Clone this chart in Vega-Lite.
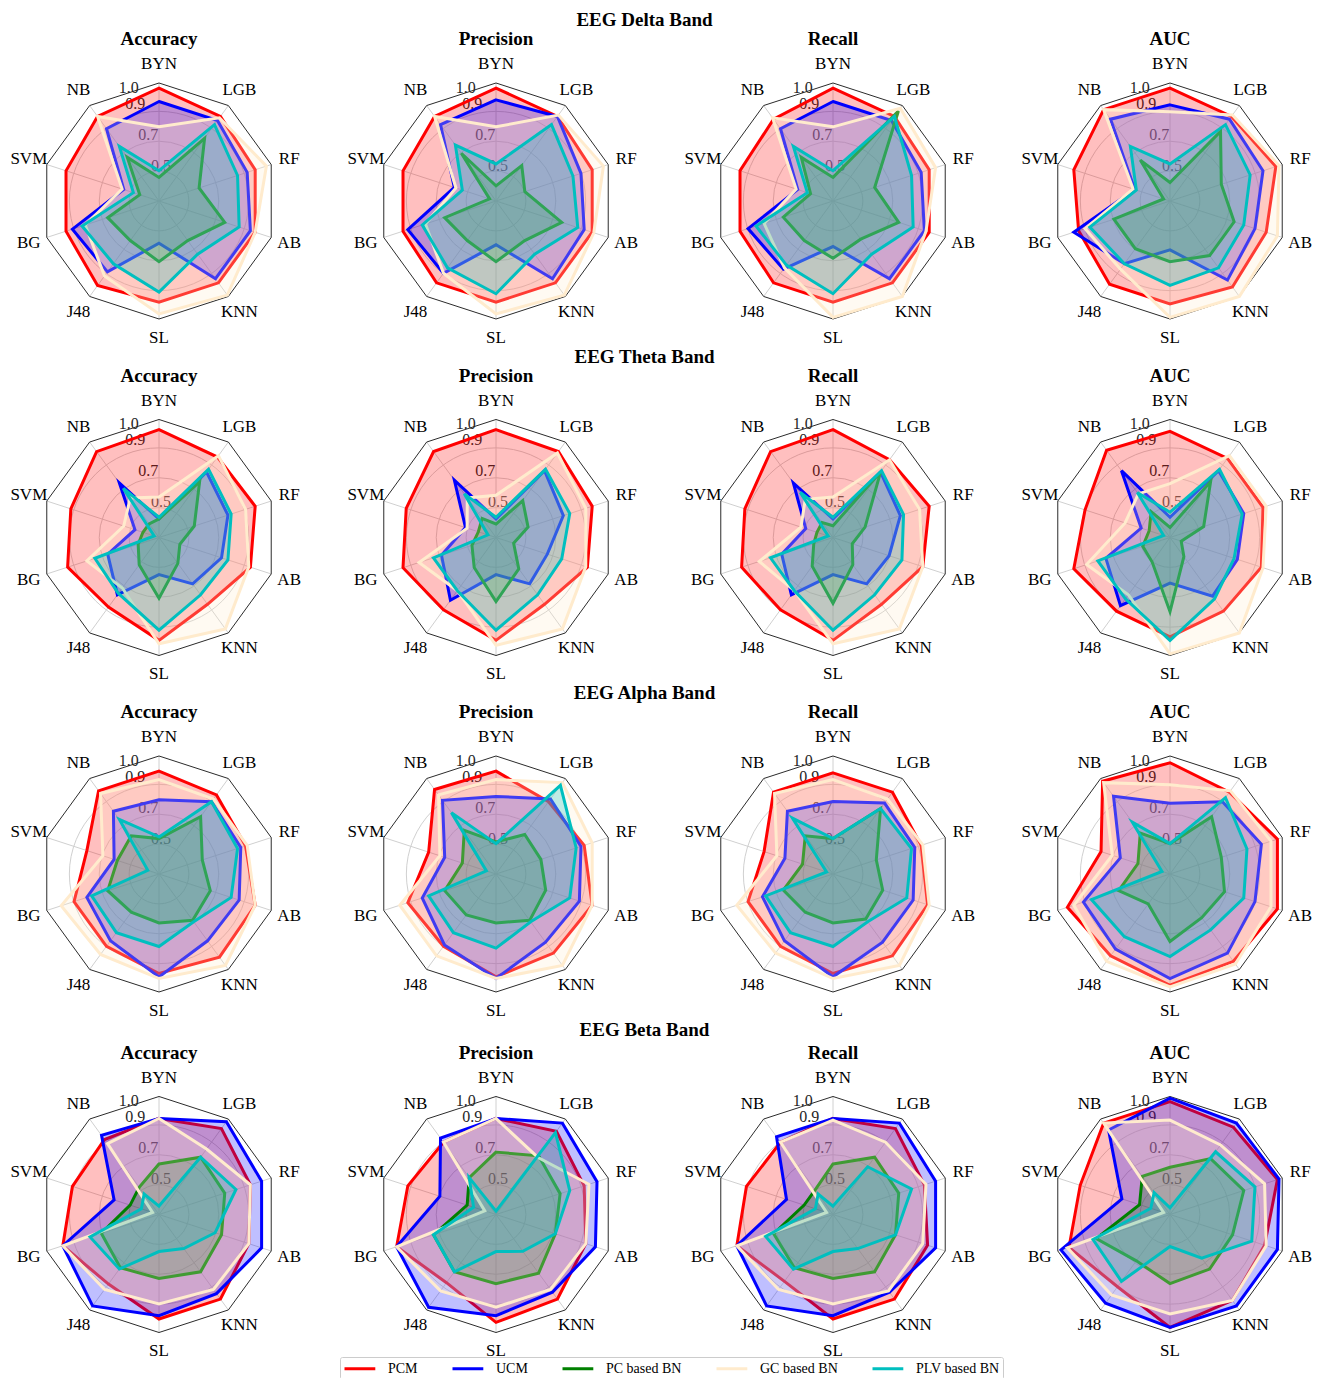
{
"$schema": "https://vega.github.io/schema/vega-lite/v6.json",
"padding": {"left": 9, "top": 11, "right": 0, "bottom": 30},
"background": "white",
"config": {
  "view": {"stroke": null},
  "font": "Liberation Serif",
  "title": {"font": "Liberation Serif", "fontSize": 19, "fontWeight": "bold", "color": "black", "offset": 6, "anchor": "middle"},
  "legend": {"symbolType": "M-1,0H3.4", "symbolStrokeWidth": 3, "symbolSize": 196, "labelFont": "Liberation Serif", "labelFontSize": 14, "labelColor": "black", "strokeColor": "#cccccc", "fillColor": "white", "padding": 3, "cornerRadius": 2, "columnPadding": 28, "labelOffset": 28}
},
"datasets": {
  "axes": [{"axis":"BYN","i":0},{"axis":"LGB","i":1},{"axis":"RF","i":2},{"axis":"AB","i":3},{"axis":"KNN","i":4},{"axis":"SL","i":5},{"axis":"J48","i":6},{"axis":"BG","i":7},{"axis":"SVM","i":8},{"axis":"NB","i":9}],
  "levels": [{"level":0.5,"label":"0.5"},{"level":0.7,"label":"0.7"},{"level":0.9,"label":"0.9"},{"level":1.0,"label":"1.0"}],
  "scores": [
{"band":"Delta","metric":"Accuracy","model":"PCM","BYN":0.97,"LGB":0.92,"RF":0.90,"AB":0.90,"KNN":0.90,"SL":0.90,"J48":0.92,"BG":0.88,"SVM":0.88,"NB":0.92},
{"band":"Delta","metric":"Accuracy","model":"UCM","BYN":0.89,"LGB":0.89,"RF":0.85,"AB":0.87,"KNN":0.87,"SL":0.55,"J48":0.82,"BG":0.84,"SVM":0.52,"NB":0.83},
{"band":"Delta","metric":"Accuracy","model":"PC based BN","BYN":0.44,"LGB":0.76,"RF":0.55,"AB":0.71,"KNN":0.59,"SL":0.66,"J48":0.59,"BG":0.62,"SVM":0.42,"NB":0.62},
{"band":"Delta","metric":"Accuracy","model":"GC based BN","BYN":0.74,"LGB":0.91,"RF":0.97,"AB":0.90,"KNN":0.99,"SL":0.97,"J48":0.85,"BG":0.76,"SVM":0.53,"NB":0.92},
{"band":"Delta","metric":"Accuracy","model":"PLV based BN","BYN":0.48,"LGB":0.86,"RF":0.79,"AB":0.80,"KNN":0.69,"SL":0.84,"J48":0.76,"BG":0.78,"SVM":0.46,"NB":0.70},
{"band":"Delta","metric":"Precision","model":"PCM","BYN":0.97,"LGB":0.92,"RF":0.90,"AB":0.90,"KNN":0.90,"SL":0.90,"J48":0.90,"BG":0.88,"SVM":0.88,"NB":0.92},
{"band":"Delta","metric":"Precision","model":"UCM","BYN":0.90,"LGB":0.92,"RF":0.83,"AB":0.85,"KNN":0.87,"SL":0.56,"J48":0.83,"BG":0.85,"SVM":0.56,"NB":0.86},
{"band":"Delta","metric":"Precision","model":"PC based BN","BYN":0.39,"LGB":0.56,"RF":0.48,"AB":0.71,"KNN":0.59,"SL":0.66,"J48":0.59,"BG":0.62,"SVM":0.34,"NB":0.65},
{"band":"Delta","metric":"Precision","model":"GC based BN","BYN":0.74,"LGB":0.93,"RF":0.97,"AB":0.91,"KNN":0.99,"SL":0.97,"J48":0.83,"BG":0.74,"SVM":0.55,"NB":0.92},
{"band":"Delta","metric":"Precision","model":"PLV based BN","BYN":0.52,"LGB":0.86,"RF":0.78,"AB":0.81,"KNN":0.69,"SL":0.85,"J48":0.79,"BG":0.76,"SVM":0.51,"NB":0.71},
{"band":"Delta","metric":"Recall","model":"PCM","BYN":0.97,"LGB":0.92,"RF":0.90,"AB":0.90,"KNN":0.90,"SL":0.90,"J48":0.90,"BG":0.88,"SVM":0.88,"NB":0.90},
{"band":"Delta","metric":"Recall","model":"UCM","BYN":0.89,"LGB":0.89,"RF":0.85,"AB":0.87,"KNN":0.87,"SL":0.57,"J48":0.80,"BG":0.83,"SVM":0.52,"NB":0.83},
{"band":"Delta","metric":"Recall","model":"PC based BN","BYN":0.44,"LGB":0.96,"RF":0.56,"AB":0.71,"KNN":0.58,"SL":0.64,"J48":0.59,"BG":0.61,"SVM":0.44,"NB":0.62},
{"band":"Delta","metric":"Recall","model":"GC based BN","BYN":0.74,"LGB":0.98,"RF":0.94,"AB":0.88,"KNN":1.0,"SL":0.99,"J48":0.79,"BG":0.73,"SVM":0.53,"NB":0.91},
{"band":"Delta","metric":"Recall","model":"PLV based BN","BYN":0.48,"LGB":0.92,"RF":0.79,"AB":0.80,"KNN":0.69,"SL":0.85,"J48":0.77,"BG":0.78,"SVM":0.46,"NB":0.70},
{"band":"Delta","metric":"AUC","model":"PCM","BYN":0.97,"LGB":0.92,"RF":0.96,"AB":0.90,"KNN":0.93,"SL":0.91,"J48":0.91,"BG":0.87,"SVM":0.90,"NB":0.97},
{"band":"Delta","metric":"AUC","model":"UCM","BYN":0.87,"LGB":0.90,"RF":0.88,"AB":0.83,"KNN":0.88,"SL":0.59,"J48":0.76,"BG":0.90,"SVM":0.52,"NB":0.90},
{"band":"Delta","metric":"AUC","model":"PC based BN","BYN":0.41,"LGB":0.81,"RF":0.62,"AB":0.70,"KNN":0.70,"SL":0.66,"J48":0.65,"BG":0.65,"SVM":0.34,"NB":0.60},
{"band":"Delta","metric":"AUC","model":"GC based BN","BYN":0.83,"LGB":0.93,"RF":0.98,"AB":0.97,"KNN":1.0,"SL":0.99,"J48":0.80,"BG":0.83,"SVM":0.53,"NB":0.97},
{"band":"Delta","metric":"AUC","model":"PLV based BN","BYN":0.52,"LGB":0.86,"RF":0.80,"AB":0.76,"KNN":0.79,"SL":0.80,"J48":0.76,"BG":0.80,"SVM":0.51,"NB":0.70},
{"band":"Theta","metric":"Accuracy","model":"PCM","BYN":0.94,"LGB":0.89,"RF":0.90,"AB":0.87,"KNN":0.79,"SL":0.91,"J48":0.81,"BG":0.87,"SVM":0.85,"NB":0.93},
{"band":"Theta","metric":"Accuracy","model":"UCM","BYN":0.41,"LGB":0.78,"RF":0.73,"AB":0.69,"KNN":0.64,"SL":0.52,"J48":0.72,"BG":0.62,"SVM":0.45,"NB":0.70},
{"band":"Theta","metric":"Accuracy","model":"PC based BN","BYN":0.41,"LGB":0.71,"RF":0.52,"AB":0.43,"KNN":0.49,"SL":0.66,"J48":0.50,"BG":0.43,"SVM":0.40,"NB":0.40},
{"band":"Theta","metric":"Accuracy","model":"GC based BN","BYN":0.54,"LGB":0.90,"RF":0.84,"AB":0.86,"KNN":0.97,"SL":0.93,"J48":0.67,"BG":0.75,"SVM":0.52,"NB":0.59},
{"band":"Theta","metric":"Accuracy","model":"PLV based BN","BYN":0.42,"LGB":0.80,"RF":0.75,"AB":0.73,"KNN":0.72,"SL":0.85,"J48":0.71,"BG":0.70,"SVM":0.33,"NB":0.66},
{"band":"Theta","metric":"Precision","model":"PCM","BYN":0.94,"LGB":0.93,"RF":0.90,"AB":0.87,"KNN":0.79,"SL":0.91,"J48":0.83,"BG":0.88,"SVM":0.86,"NB":0.93},
{"band":"Theta","metric":"Precision","model":"UCM","BYN":0.41,"LGB":0.79,"RF":0.72,"AB":0.62,"KNN":0.64,"SL":0.52,"J48":0.76,"BG":0.64,"SVM":0.49,"NB":0.72},
{"band":"Theta","metric":"Precision","model":"PC based BN","BYN":0.38,"LGB":0.57,"RF":0.50,"AB":0.41,"KNN":0.53,"SL":0.68,"J48":0.52,"BG":0.45,"SVM":0.41,"NB":0.44},
{"band":"Theta","metric":"Precision","model":"GC based BN","BYN":0.55,"LGB":0.92,"RF":0.86,"AB":0.86,"KNN":0.97,"SL":0.94,"J48":0.69,"BG":0.78,"SVM":0.48,"NB":0.59},
{"band":"Theta","metric":"Precision","model":"PLV based BN","BYN":0.42,"LGB":0.80,"RF":0.76,"AB":0.71,"KNN":0.72,"SL":0.85,"J48":0.69,"BG":0.69,"SVM":0.35,"NB":0.62},
{"band":"Theta","metric":"Recall","model":"PCM","BYN":0.94,"LGB":0.87,"RF":0.90,"AB":0.86,"KNN":0.79,"SL":0.91,"J48":0.83,"BG":0.87,"SVM":0.85,"NB":0.93},
{"band":"Theta","metric":"Recall","model":"UCM","BYN":0.41,"LGB":0.78,"RF":0.72,"AB":0.65,"KNN":0.64,"SL":0.52,"J48":0.72,"BG":0.62,"SVM":0.47,"NB":0.70},
{"band":"Theta","metric":"Recall","model":"PC based BN","BYN":0.37,"LGB":0.78,"RF":0.50,"AB":0.42,"KNN":0.50,"SL":0.69,"J48":0.51,"BG":0.42,"SVM":0.40,"NB":0.41},
{"band":"Theta","metric":"Recall","model":"GC based BN","BYN":0.54,"LGB":0.87,"RF":0.84,"AB":0.86,"KNN":0.97,"SL":0.93,"J48":0.69,"BG":0.76,"SVM":0.50,"NB":0.58},
{"band":"Theta","metric":"Recall","model":"PLV based BN","BYN":0.42,"LGB":0.79,"RF":0.74,"AB":0.73,"KNN":0.72,"SL":0.85,"J48":0.69,"BG":0.69,"SVM":0.33,"NB":0.63},
{"band":"Theta","metric":"AUC","model":"PCM","BYN":0.93,"LGB":0.88,"RF":0.88,"AB":0.87,"KNN":0.84,"SL":0.89,"J48":0.84,"BG":0.90,"SVM":0.83,"NB":0.94},
{"band":"Theta","metric":"AUC","model":"UCM","BYN":0.42,"LGB":0.79,"RF":0.76,"AB":0.72,"KNN":0.73,"SL":0.57,"J48":0.80,"BG":0.70,"SVM":0.48,"NB":0.79},
{"band":"Theta","metric":"AUC","model":"PC based BN","BYN":0.36,"LGB":0.71,"RF":0.51,"AB":0.37,"KNN":0.44,"SL":0.74,"J48":0.48,"BG":0.47,"SVM":0.43,"NB":0.49},
{"band":"Theta","metric":"AUC","model":"GC based BN","BYN":0.62,"LGB":0.90,"RF":0.90,"AB":0.88,"KNN":1.0,"SL":0.99,"J48":0.72,"BG":0.82,"SVM":0.58,"NB":0.62},
{"band":"Theta","metric":"AUC","model":"PLV based BN","BYN":0.45,"LGB":0.80,"RF":0.75,"AB":0.70,"KNN":0.75,"SL":0.91,"J48":0.75,"BG":0.75,"SVM":0.34,"NB":0.63},
{"band":"Alpha","metric":"Accuracy","model":"PCM","BYN":0.91,"LGB":0.88,"RF":0.84,"AB":0.90,"KNN":0.91,"SL":0.89,"J48":0.83,"BG":0.83,"SVM":0.75,"NB":0.91},
{"band":"Alpha","metric":"Accuracy","model":"UCM","BYN":0.74,"LGB":0.83,"RF":0.81,"AB":0.80,"KNN":0.79,"SL":0.91,"J48":0.79,"BG":0.75,"SVM":0.58,"NB":0.76},
{"band":"Alpha","metric":"Accuracy","model":"PC based BN","BYN":0.51,"LGB":0.72,"RF":0.57,"AB":0.62,"KNN":0.64,"SL":0.59,"J48":0.58,"BG":0.62,"SVM":0.56,"NB":0.58},
{"band":"Alpha","metric":"Accuracy","model":"GC based BN","BYN":0.86,"LGB":0.85,"RF":0.85,"AB":0.90,"KNN":0.97,"SL":0.92,"J48":0.89,"BG":0.91,"SVM":0.65,"NB":0.89},
{"band":"Alpha","metric":"Accuracy","model":"PLV based BN","BYN":0.52,"LGB":0.83,"RF":0.79,"AB":0.75,"KNN":0.65,"SL":0.73,"J48":0.73,"BG":0.72,"SVM":0.37,"NB":0.70},
{"band":"Alpha","metric":"Precision","model":"PCM","BYN":0.91,"LGB":0.83,"RF":0.85,"AB":0.90,"KNN":0.88,"SL":0.91,"J48":0.83,"BG":0.85,"SVM":0.72,"NB":0.92},
{"band":"Alpha","metric":"Precision","model":"UCM","BYN":0.76,"LGB":0.85,"RF":0.83,"AB":0.82,"KNN":0.80,"SL":0.92,"J48":0.82,"BG":0.76,"SVM":0.62,"NB":0.84},
{"band":"Alpha","metric":"Precision","model":"PC based BN","BYN":0.49,"LGB":0.59,"RF":0.58,"AB":0.61,"KNN":0.64,"SL":0.59,"J48":0.60,"BG":0.62,"SVM":0.51,"NB":0.62},
{"band":"Alpha","metric":"Precision","model":"GC based BN","BYN":0.86,"LGB":0.97,"RF":0.90,"AB":0.90,"KNN":0.97,"SL":0.92,"J48":0.90,"BG":0.90,"SVM":0.65,"NB":0.88},
{"band":"Alpha","metric":"Precision","model":"PLV based BN","BYN":0.48,"LGB":0.95,"RF":0.80,"AB":0.76,"KNN":0.65,"SL":0.74,"J48":0.73,"BG":0.72,"SVM":0.36,"NB":0.75},
{"band":"Alpha","metric":"Recall","model":"PCM","BYN":0.90,"LGB":0.90,"RF":0.85,"AB":0.89,"KNN":0.90,"SL":0.89,"J48":0.83,"BG":0.83,"SVM":0.73,"NB":0.90},
{"band":"Alpha","metric":"Recall","model":"UCM","BYN":0.73,"LGB":0.82,"RF":0.81,"AB":0.80,"KNN":0.80,"SL":0.91,"J48":0.79,"BG":0.74,"SVM":0.60,"NB":0.76},
{"band":"Alpha","metric":"Recall","model":"PC based BN","BYN":0.51,"LGB":0.78,"RF":0.57,"AB":0.61,"KNN":0.63,"SL":0.59,"J48":0.58,"BG":0.61,"SVM":0.49,"NB":0.58},
{"band":"Alpha","metric":"Recall","model":"GC based BN","BYN":0.86,"LGB":0.85,"RF":0.86,"AB":0.90,"KNN":0.97,"SL":0.92,"J48":0.88,"BG":0.90,"SVM":0.65,"NB":0.89},
{"band":"Alpha","metric":"Recall","model":"PLV based BN","BYN":0.51,"LGB":0.78,"RF":0.79,"AB":0.76,"KNN":0.65,"SL":0.73,"J48":0.73,"BG":0.72,"SVM":0.34,"NB":0.71},
{"band":"Alpha","metric":"AUC","model":"PCM","BYN":0.96,"LGB":0.90,"RF":0.97,"AB":0.97,"KNN":0.94,"SL":0.96,"J48":0.90,"BG":0.94,"SVM":0.73,"NB":0.98},
{"band":"Alpha","metric":"AUC","model":"UCM","BYN":0.72,"LGB":0.83,"RF":0.87,"AB":0.83,"KNN":0.88,"SL":0.92,"J48":0.85,"BG":0.84,"SVM":0.61,"NB":0.87},
{"band":"Alpha","metric":"AUC","model":"PC based BN","BYN":0.48,"LGB":0.72,"RF":0.62,"AB":0.64,"KNN":0.62,"SL":0.70,"J48":0.52,"BG":0.62,"SVM":0.50,"NB":0.60},
{"band":"Alpha","metric":"AUC","model":"GC based BN","BYN":0.83,"LGB":0.91,"RF":0.93,"AB":0.93,"KNN":0.96,"SL":0.97,"J48":0.94,"BG":0.90,"SVM":0.66,"NB":0.97},
{"band":"Alpha","metric":"AUC","model":"PLV based BN","BYN":0.48,"LGB":0.86,"RF":0.78,"AB":0.76,"KNN":0.71,"SL":0.79,"J48":0.76,"BG":0.79,"SVM":0.35,"NB":0.68},
{"band":"Beta","metric":"Accuracy","model":"PCM","BYN":0.87,"LGB":0.93,"RF":0.87,"AB":0.86,"KNN":0.92,"SL":0.92,"J48":0.81,"BG":0.90,"SVM":0.84,"NB":0.85},
{"band":"Beta","metric":"Accuracy","model":"UCM","BYN":0.87,"LGB":0.98,"RF":0.94,"AB":0.94,"KNN":0.88,"SL":0.90,"J48":0.97,"BG":0.90,"SVM":0.58,"NB":0.88},
{"band":"Beta","metric":"Accuracy","model":"PC based BN","BYN":0.60,"LGB":0.72,"RF":0.71,"AB":0.69,"KNN":0.72,"SL":0.68,"J48":0.69,"BG":0.66,"SVM":0.48,"NB":0.50},
{"band":"Beta","metric":"Accuracy","model":"GC based BN","BYN":0.87,"LGB":0.78,"RF":0.87,"AB":0.86,"KNN":0.85,"SL":0.83,"J48":0.85,"BG":0.90,"SVM":0.34,"NB":0.82},
{"band":"Beta","metric":"Accuracy","model":"PLV based BN","BYN":0.35,"LGB":0.72,"RF":0.78,"AB":0.65,"KNN":0.55,"SL":0.52,"J48":0.70,"BG":0.73,"SVM":0.41,"NB":0.45},
{"band":"Beta","metric":"Precision","model":"PCM","BYN":0.87,"LGB":0.91,"RF":0.85,"AB":0.86,"KNN":0.92,"SL":0.94,"J48":0.80,"BG":0.92,"SVM":0.85,"NB":0.83},
{"band":"Beta","metric":"Precision","model":"UCM","BYN":0.87,"LGB":0.97,"RF":0.93,"AB":0.92,"KNN":0.87,"SL":0.90,"J48":0.98,"BG":0.92,"SVM":0.65,"NB":0.86},
{"band":"Beta","metric":"Precision","model":"PC based BN","BYN":0.67,"LGB":0.73,"RF":0.70,"AB":0.67,"KNN":0.73,"SL":0.71,"J48":0.72,"BG":0.69,"SVM":0.48,"NB":0.57},
{"band":"Beta","metric":"Precision","model":"GC based BN","BYN":0.87,"LGB":0.72,"RF":0.88,"AB":0.86,"KNN":0.85,"SL":0.85,"J48":0.86,"BG":0.92,"SVM":0.37,"NB":0.83},
{"band":"Beta","metric":"Precision","model":"PLV based BN","BYN":0.32,"LGB":0.90,"RF":0.76,"AB":0.67,"KNN":0.57,"SL":0.52,"J48":0.72,"BG":0.69,"SVM":0.44,"NB":0.57},
{"band":"Beta","metric":"Recall","model":"PCM","BYN":0.87,"LGB":0.93,"RF":0.87,"AB":0.89,"KNN":0.92,"SL":0.92,"J48":0.79,"BG":0.90,"SVM":0.84,"NB":0.83},
{"band":"Beta","metric":"Recall","model":"UCM","BYN":0.87,"LGB":0.97,"RF":0.94,"AB":0.94,"KNN":0.87,"SL":0.90,"J48":0.97,"BG":0.90,"SVM":0.59,"NB":0.87},
{"band":"Beta","metric":"Recall","model":"PC based BN","BYN":0.60,"LGB":0.72,"RF":0.71,"AB":0.69,"KNN":0.72,"SL":0.68,"J48":0.69,"BG":0.67,"SVM":0.48,"NB":0.48},
{"band":"Beta","metric":"Recall","model":"GC based BN","BYN":0.86,"LGB":0.83,"RF":0.88,"AB":0.86,"KNN":0.86,"SL":0.83,"J48":0.85,"BG":0.90,"SVM":0.34,"NB":0.83},
{"band":"Beta","metric":"Recall","model":"PLV based BN","BYN":0.35,"LGB":0.65,"RF":0.79,"AB":0.69,"KNN":0.55,"SL":0.52,"J48":0.70,"BG":0.72,"SVM":0.41,"NB":0.45},
{"band":"Beta","metric":"AUC","model":"PCM","BYN":0.97,"LGB":0.94,"RF":0.97,"AB":0.89,"KNN":0.93,"SL":0.97,"J48":0.83,"BG":0.93,"SVM":0.86,"NB":0.97},
{"band":"Beta","metric":"AUC","model":"UCM","BYN":0.99,"LGB":0.97,"RF":0.98,"AB":0.97,"KNN":0.97,"SL":0.97,"J48":0.95,"BG":0.98,"SVM":0.60,"NB":0.92},
{"band":"Beta","metric":"AUC","model":"PC based BN","BYN":0.58,"LGB":0.71,"RF":0.76,"AB":0.69,"KNN":0.70,"SL":0.71,"J48":0.64,"BG":0.76,"SVM":0.49,"NB":0.58},
{"band":"Beta","metric":"AUC","model":"GC based BN","BYN":0.86,"LGB":0.81,"RF":0.89,"AB":0.90,"KNN":0.93,"SL":0.89,"J48":0.89,"BG":0.94,"SVM":0.34,"NB":0.97},
{"band":"Beta","metric":"AUC","model":"PLV based BN","BYN":0.34,"LGB":0.76,"RF":0.83,"AB":0.81,"KNN":0.62,"SL":0.49,"J48":0.79,"BG":0.78,"SVM":0.42,"NB":0.46}
  ]
},
"spacing": 1.5,
"resolve": {"scale": {"stroke": "shared", "fill": "shared", "size": "shared"}, "legend": {"stroke": "shared", "fill": "shared"}},
"vconcat": [
{"title": {"text": "EEG Delta Band", "offset": 0, "dx": -20}, "bounds": "flush", "spacing": 37, "resolve": {"scale": {"stroke": "shared", "fill": "shared", "size": "shared"}, "legend": {"stroke": "shared", "fill": "shared"}}, "hconcat": [
{"title": "Accuracy", "width": 300, "height": 290, "layer": [
{"data": {"name": "levels"}, "transform": [{"filter": "datum.level < 1"}, {"calculate": "(datum.level-0.3)/0.7", "as": "rr"}, {"calculate": "0", "as": "cx"}], "mark": {"type": "point", "shape": "circle", "filled": false, "stroke": "#d0d0d0", "strokeWidth": 1, "opacity": 1}, "encoding": {"x": {"field": "cx", "type": "quantitative", "scale": {"domain": [-1.2712, 1.2712], "nice": false, "zero": false}, "axis": null}, "y": {"field": "cx", "type": "quantitative", "scale": {"domain": [-1.2288, 1.2288], "nice": false, "zero": false}, "axis": null}, "size": {"field": "rr", "type": "quantitative", "scale": {"type": "pow", "exponent": 2, "domain": [0, 1], "range": [0, 43744]}, "legend": null}}},
{"data": {"name": "axes"}, "transform": [{"calculate": "sin(datum.i*PI/5)", "as": "fx"}, {"calculate": "cos(datum.i*PI/5)", "as": "fy"}, {"calculate": "0", "as": "cx"}], "mark": {"type": "rule", "stroke": "#d0d0d0", "strokeWidth": 1}, "encoding": {"x": {"field": "cx", "type": "quantitative", "scale": {"domain": [-1.2712, 1.2712], "nice": false, "zero": false}, "axis": null}, "y": {"field": "cx", "type": "quantitative", "scale": {"domain": [-1.2288, 1.2288], "nice": false, "zero": false}, "axis": null}, "x2": {"field": "fx"}, "y2": {"field": "fy"}}},
{"data": {"name": "axes"}, "transform": [{"calculate": "sin(datum.i*PI/5)", "as": "fx"}, {"calculate": "cos(datum.i*PI/5)", "as": "fy"}], "mark": {"type": "line", "interpolate": "linear-closed", "stroke": "#2b2b2b", "strokeWidth": 1}, "encoding": {"x": {"field": "fx", "type": "quantitative", "scale": {"domain": [-1.2712, 1.2712], "nice": false, "zero": false}, "axis": null}, "y": {"field": "fy", "type": "quantitative", "scale": {"domain": [-1.2288, 1.2288], "nice": false, "zero": false}, "axis": null}, "order": {"field": "i", "type": "quantitative"}}},
{"data": {"name": "levels"}, "transform": [{"calculate": "(datum.level-0.3)/0.7*sin(-PI/8)", "as": "tx"}, {"calculate": "(datum.level-0.3)/0.7*cos(PI/8)", "as": "ty"}], "mark": {"type": "text", "align": "left", "fontSize": 16, "color": "#262626", "dx": 5, "dy": -4}, "encoding": {"x": {"field": "tx", "type": "quantitative", "scale": {"domain": [-1.2712, 1.2712], "nice": false, "zero": false}, "axis": null}, "y": {"field": "ty", "type": "quantitative", "scale": {"domain": [-1.2288, 1.2288], "nice": false, "zero": false}, "axis": null}, "text": {"field": "label", "type": "nominal"}}},
{"data": {"name": "scores"}, "transform": [{"filter": "datum.band === 'Delta' && datum.metric === 'Accuracy'"}, {"fold": ["BYN","LGB","RF","AB","KNN","SL","J48","BG","SVM","NB"], "as": ["axis", "value"]}, {"calculate": "indexof(['BYN','LGB','RF','AB','KNN','SL','J48','BG','SVM','NB'], datum.axis)", "as": "i"}, {"calculate": "(datum.value-0.3)/0.7*sin(datum.i*PI/5)", "as": "px"}, {"calculate": "(datum.value-0.3)/0.7*cos(datum.i*PI/5)", "as": "py"}], "mark": {"type": "line", "interpolate": "linear-closed", "strokeWidth": 3, "fillOpacity": 0.25}, "encoding": {"x": {"field": "px", "type": "quantitative", "scale": {"domain": [-1.2712, 1.2712], "nice": false, "zero": false}, "axis": null}, "y": {"field": "py", "type": "quantitative", "scale": {"domain": [-1.2288, 1.2288], "nice": false, "zero": false}, "axis": null}, "order": {"field": "i", "type": "quantitative"}, "stroke": {"field": "model", "type": "nominal", "scale": {"domain": ["PCM","UCM","PC based BN","GC based BN","PLV based BN"], "range": ["#ff0000","#0000ff","#008000","#ffebcd","#00bfbf"]}, "legend": {"title": null, "orient": "none", "legendX": 331, "legendY": 1301, "direction": "horizontal", "columns": 5}}, "fill": {"field": "model", "type": "nominal", "scale": {"domain": ["PCM","UCM","PC based BN","GC based BN","PLV based BN"], "range": ["#ff0000","#0000ff","#008000","#ffebcd","#00bfbf"]}, "legend": {"title": null, "orient": "none", "legendX": 331, "legendY": 1301, "direction": "horizontal", "columns": 5}}}},
{"data": {"name": "axes"}, "transform": [{"calculate": "1.16*sin(datum.i*PI/5)", "as": "lx"}, {"calculate": "1.16*cos(datum.i*PI/5)", "as": "ly"}], "mark": {"type": "text", "fontSize": 17, "align": "center", "baseline": "middle", "color": "black"}, "encoding": {"x": {"field": "lx", "type": "quantitative", "scale": {"domain": [-1.2712, 1.2712], "nice": false, "zero": false}, "axis": null}, "y": {"field": "ly", "type": "quantitative", "scale": {"domain": [-1.2288, 1.2288], "nice": false, "zero": false}, "axis": null}, "text": {"field": "axis", "type": "nominal"}}}
]},
{"title": "Precision", "width": 300, "height": 290, "layer": [
{"data": {"name": "levels"}, "transform": [{"filter": "datum.level < 1"}, {"calculate": "(datum.level-0.3)/0.7", "as": "rr"}, {"calculate": "0", "as": "cx"}], "mark": {"type": "point", "shape": "circle", "filled": false, "stroke": "#d0d0d0", "strokeWidth": 1, "opacity": 1}, "encoding": {"x": {"field": "cx", "type": "quantitative", "scale": {"domain": [-1.2712, 1.2712], "nice": false, "zero": false}, "axis": null}, "y": {"field": "cx", "type": "quantitative", "scale": {"domain": [-1.2288, 1.2288], "nice": false, "zero": false}, "axis": null}, "size": {"field": "rr", "type": "quantitative", "scale": {"type": "pow", "exponent": 2, "domain": [0, 1], "range": [0, 43744]}, "legend": null}}},
{"data": {"name": "axes"}, "transform": [{"calculate": "sin(datum.i*PI/5)", "as": "fx"}, {"calculate": "cos(datum.i*PI/5)", "as": "fy"}, {"calculate": "0", "as": "cx"}], "mark": {"type": "rule", "stroke": "#d0d0d0", "strokeWidth": 1}, "encoding": {"x": {"field": "cx", "type": "quantitative", "scale": {"domain": [-1.2712, 1.2712], "nice": false, "zero": false}, "axis": null}, "y": {"field": "cx", "type": "quantitative", "scale": {"domain": [-1.2288, 1.2288], "nice": false, "zero": false}, "axis": null}, "x2": {"field": "fx"}, "y2": {"field": "fy"}}},
{"data": {"name": "axes"}, "transform": [{"calculate": "sin(datum.i*PI/5)", "as": "fx"}, {"calculate": "cos(datum.i*PI/5)", "as": "fy"}], "mark": {"type": "line", "interpolate": "linear-closed", "stroke": "#2b2b2b", "strokeWidth": 1}, "encoding": {"x": {"field": "fx", "type": "quantitative", "scale": {"domain": [-1.2712, 1.2712], "nice": false, "zero": false}, "axis": null}, "y": {"field": "fy", "type": "quantitative", "scale": {"domain": [-1.2288, 1.2288], "nice": false, "zero": false}, "axis": null}, "order": {"field": "i", "type": "quantitative"}}},
{"data": {"name": "levels"}, "transform": [{"calculate": "(datum.level-0.3)/0.7*sin(-PI/8)", "as": "tx"}, {"calculate": "(datum.level-0.3)/0.7*cos(PI/8)", "as": "ty"}], "mark": {"type": "text", "align": "left", "fontSize": 16, "color": "#262626", "dx": 5, "dy": -4}, "encoding": {"x": {"field": "tx", "type": "quantitative", "scale": {"domain": [-1.2712, 1.2712], "nice": false, "zero": false}, "axis": null}, "y": {"field": "ty", "type": "quantitative", "scale": {"domain": [-1.2288, 1.2288], "nice": false, "zero": false}, "axis": null}, "text": {"field": "label", "type": "nominal"}}},
{"data": {"name": "scores"}, "transform": [{"filter": "datum.band === 'Delta' && datum.metric === 'Precision'"}, {"fold": ["BYN","LGB","RF","AB","KNN","SL","J48","BG","SVM","NB"], "as": ["axis", "value"]}, {"calculate": "indexof(['BYN','LGB','RF','AB','KNN','SL','J48','BG','SVM','NB'], datum.axis)", "as": "i"}, {"calculate": "(datum.value-0.3)/0.7*sin(datum.i*PI/5)", "as": "px"}, {"calculate": "(datum.value-0.3)/0.7*cos(datum.i*PI/5)", "as": "py"}], "mark": {"type": "line", "interpolate": "linear-closed", "strokeWidth": 3, "fillOpacity": 0.25}, "encoding": {"x": {"field": "px", "type": "quantitative", "scale": {"domain": [-1.2712, 1.2712], "nice": false, "zero": false}, "axis": null}, "y": {"field": "py", "type": "quantitative", "scale": {"domain": [-1.2288, 1.2288], "nice": false, "zero": false}, "axis": null}, "order": {"field": "i", "type": "quantitative"}, "stroke": {"field": "model", "type": "nominal", "scale": {"domain": ["PCM","UCM","PC based BN","GC based BN","PLV based BN"], "range": ["#ff0000","#0000ff","#008000","#ffebcd","#00bfbf"]}, "legend": {"title": null, "orient": "none", "legendX": 331, "legendY": 1301, "direction": "horizontal", "columns": 5}}, "fill": {"field": "model", "type": "nominal", "scale": {"domain": ["PCM","UCM","PC based BN","GC based BN","PLV based BN"], "range": ["#ff0000","#0000ff","#008000","#ffebcd","#00bfbf"]}, "legend": {"title": null, "orient": "none", "legendX": 331, "legendY": 1301, "direction": "horizontal", "columns": 5}}}},
{"data": {"name": "axes"}, "transform": [{"calculate": "1.16*sin(datum.i*PI/5)", "as": "lx"}, {"calculate": "1.16*cos(datum.i*PI/5)", "as": "ly"}], "mark": {"type": "text", "fontSize": 17, "align": "center", "baseline": "middle", "color": "black"}, "encoding": {"x": {"field": "lx", "type": "quantitative", "scale": {"domain": [-1.2712, 1.2712], "nice": false, "zero": false}, "axis": null}, "y": {"field": "ly", "type": "quantitative", "scale": {"domain": [-1.2288, 1.2288], "nice": false, "zero": false}, "axis": null}, "text": {"field": "axis", "type": "nominal"}}}
]},
{"title": "Recall", "width": 300, "height": 290, "layer": [
{"data": {"name": "levels"}, "transform": [{"filter": "datum.level < 1"}, {"calculate": "(datum.level-0.3)/0.7", "as": "rr"}, {"calculate": "0", "as": "cx"}], "mark": {"type": "point", "shape": "circle", "filled": false, "stroke": "#d0d0d0", "strokeWidth": 1, "opacity": 1}, "encoding": {"x": {"field": "cx", "type": "quantitative", "scale": {"domain": [-1.2712, 1.2712], "nice": false, "zero": false}, "axis": null}, "y": {"field": "cx", "type": "quantitative", "scale": {"domain": [-1.2288, 1.2288], "nice": false, "zero": false}, "axis": null}, "size": {"field": "rr", "type": "quantitative", "scale": {"type": "pow", "exponent": 2, "domain": [0, 1], "range": [0, 43744]}, "legend": null}}},
{"data": {"name": "axes"}, "transform": [{"calculate": "sin(datum.i*PI/5)", "as": "fx"}, {"calculate": "cos(datum.i*PI/5)", "as": "fy"}, {"calculate": "0", "as": "cx"}], "mark": {"type": "rule", "stroke": "#d0d0d0", "strokeWidth": 1}, "encoding": {"x": {"field": "cx", "type": "quantitative", "scale": {"domain": [-1.2712, 1.2712], "nice": false, "zero": false}, "axis": null}, "y": {"field": "cx", "type": "quantitative", "scale": {"domain": [-1.2288, 1.2288], "nice": false, "zero": false}, "axis": null}, "x2": {"field": "fx"}, "y2": {"field": "fy"}}},
{"data": {"name": "axes"}, "transform": [{"calculate": "sin(datum.i*PI/5)", "as": "fx"}, {"calculate": "cos(datum.i*PI/5)", "as": "fy"}], "mark": {"type": "line", "interpolate": "linear-closed", "stroke": "#2b2b2b", "strokeWidth": 1}, "encoding": {"x": {"field": "fx", "type": "quantitative", "scale": {"domain": [-1.2712, 1.2712], "nice": false, "zero": false}, "axis": null}, "y": {"field": "fy", "type": "quantitative", "scale": {"domain": [-1.2288, 1.2288], "nice": false, "zero": false}, "axis": null}, "order": {"field": "i", "type": "quantitative"}}},
{"data": {"name": "levels"}, "transform": [{"calculate": "(datum.level-0.3)/0.7*sin(-PI/8)", "as": "tx"}, {"calculate": "(datum.level-0.3)/0.7*cos(PI/8)", "as": "ty"}], "mark": {"type": "text", "align": "left", "fontSize": 16, "color": "#262626", "dx": 5, "dy": -4}, "encoding": {"x": {"field": "tx", "type": "quantitative", "scale": {"domain": [-1.2712, 1.2712], "nice": false, "zero": false}, "axis": null}, "y": {"field": "ty", "type": "quantitative", "scale": {"domain": [-1.2288, 1.2288], "nice": false, "zero": false}, "axis": null}, "text": {"field": "label", "type": "nominal"}}},
{"data": {"name": "scores"}, "transform": [{"filter": "datum.band === 'Delta' && datum.metric === 'Recall'"}, {"fold": ["BYN","LGB","RF","AB","KNN","SL","J48","BG","SVM","NB"], "as": ["axis", "value"]}, {"calculate": "indexof(['BYN','LGB','RF','AB','KNN','SL','J48','BG','SVM','NB'], datum.axis)", "as": "i"}, {"calculate": "(datum.value-0.3)/0.7*sin(datum.i*PI/5)", "as": "px"}, {"calculate": "(datum.value-0.3)/0.7*cos(datum.i*PI/5)", "as": "py"}], "mark": {"type": "line", "interpolate": "linear-closed", "strokeWidth": 3, "fillOpacity": 0.25}, "encoding": {"x": {"field": "px", "type": "quantitative", "scale": {"domain": [-1.2712, 1.2712], "nice": false, "zero": false}, "axis": null}, "y": {"field": "py", "type": "quantitative", "scale": {"domain": [-1.2288, 1.2288], "nice": false, "zero": false}, "axis": null}, "order": {"field": "i", "type": "quantitative"}, "stroke": {"field": "model", "type": "nominal", "scale": {"domain": ["PCM","UCM","PC based BN","GC based BN","PLV based BN"], "range": ["#ff0000","#0000ff","#008000","#ffebcd","#00bfbf"]}, "legend": {"title": null, "orient": "none", "legendX": 331, "legendY": 1301, "direction": "horizontal", "columns": 5}}, "fill": {"field": "model", "type": "nominal", "scale": {"domain": ["PCM","UCM","PC based BN","GC based BN","PLV based BN"], "range": ["#ff0000","#0000ff","#008000","#ffebcd","#00bfbf"]}, "legend": {"title": null, "orient": "none", "legendX": 331, "legendY": 1301, "direction": "horizontal", "columns": 5}}}},
{"data": {"name": "axes"}, "transform": [{"calculate": "1.16*sin(datum.i*PI/5)", "as": "lx"}, {"calculate": "1.16*cos(datum.i*PI/5)", "as": "ly"}], "mark": {"type": "text", "fontSize": 17, "align": "center", "baseline": "middle", "color": "black"}, "encoding": {"x": {"field": "lx", "type": "quantitative", "scale": {"domain": [-1.2712, 1.2712], "nice": false, "zero": false}, "axis": null}, "y": {"field": "ly", "type": "quantitative", "scale": {"domain": [-1.2288, 1.2288], "nice": false, "zero": false}, "axis": null}, "text": {"field": "axis", "type": "nominal"}}}
]},
{"title": "AUC", "width": 300, "height": 290, "layer": [
{"data": {"name": "levels"}, "transform": [{"filter": "datum.level < 1"}, {"calculate": "(datum.level-0.3)/0.7", "as": "rr"}, {"calculate": "0", "as": "cx"}], "mark": {"type": "point", "shape": "circle", "filled": false, "stroke": "#d0d0d0", "strokeWidth": 1, "opacity": 1}, "encoding": {"x": {"field": "cx", "type": "quantitative", "scale": {"domain": [-1.2712, 1.2712], "nice": false, "zero": false}, "axis": null}, "y": {"field": "cx", "type": "quantitative", "scale": {"domain": [-1.2288, 1.2288], "nice": false, "zero": false}, "axis": null}, "size": {"field": "rr", "type": "quantitative", "scale": {"type": "pow", "exponent": 2, "domain": [0, 1], "range": [0, 43744]}, "legend": null}}},
{"data": {"name": "axes"}, "transform": [{"calculate": "sin(datum.i*PI/5)", "as": "fx"}, {"calculate": "cos(datum.i*PI/5)", "as": "fy"}, {"calculate": "0", "as": "cx"}], "mark": {"type": "rule", "stroke": "#d0d0d0", "strokeWidth": 1}, "encoding": {"x": {"field": "cx", "type": "quantitative", "scale": {"domain": [-1.2712, 1.2712], "nice": false, "zero": false}, "axis": null}, "y": {"field": "cx", "type": "quantitative", "scale": {"domain": [-1.2288, 1.2288], "nice": false, "zero": false}, "axis": null}, "x2": {"field": "fx"}, "y2": {"field": "fy"}}},
{"data": {"name": "axes"}, "transform": [{"calculate": "sin(datum.i*PI/5)", "as": "fx"}, {"calculate": "cos(datum.i*PI/5)", "as": "fy"}], "mark": {"type": "line", "interpolate": "linear-closed", "stroke": "#2b2b2b", "strokeWidth": 1}, "encoding": {"x": {"field": "fx", "type": "quantitative", "scale": {"domain": [-1.2712, 1.2712], "nice": false, "zero": false}, "axis": null}, "y": {"field": "fy", "type": "quantitative", "scale": {"domain": [-1.2288, 1.2288], "nice": false, "zero": false}, "axis": null}, "order": {"field": "i", "type": "quantitative"}}},
{"data": {"name": "levels"}, "transform": [{"calculate": "(datum.level-0.3)/0.7*sin(-PI/8)", "as": "tx"}, {"calculate": "(datum.level-0.3)/0.7*cos(PI/8)", "as": "ty"}], "mark": {"type": "text", "align": "left", "fontSize": 16, "color": "#262626", "dx": 5, "dy": -4}, "encoding": {"x": {"field": "tx", "type": "quantitative", "scale": {"domain": [-1.2712, 1.2712], "nice": false, "zero": false}, "axis": null}, "y": {"field": "ty", "type": "quantitative", "scale": {"domain": [-1.2288, 1.2288], "nice": false, "zero": false}, "axis": null}, "text": {"field": "label", "type": "nominal"}}},
{"data": {"name": "scores"}, "transform": [{"filter": "datum.band === 'Delta' && datum.metric === 'AUC'"}, {"fold": ["BYN","LGB","RF","AB","KNN","SL","J48","BG","SVM","NB"], "as": ["axis", "value"]}, {"calculate": "indexof(['BYN','LGB','RF','AB','KNN','SL','J48','BG','SVM','NB'], datum.axis)", "as": "i"}, {"calculate": "(datum.value-0.3)/0.7*sin(datum.i*PI/5)", "as": "px"}, {"calculate": "(datum.value-0.3)/0.7*cos(datum.i*PI/5)", "as": "py"}], "mark": {"type": "line", "interpolate": "linear-closed", "strokeWidth": 3, "fillOpacity": 0.25}, "encoding": {"x": {"field": "px", "type": "quantitative", "scale": {"domain": [-1.2712, 1.2712], "nice": false, "zero": false}, "axis": null}, "y": {"field": "py", "type": "quantitative", "scale": {"domain": [-1.2288, 1.2288], "nice": false, "zero": false}, "axis": null}, "order": {"field": "i", "type": "quantitative"}, "stroke": {"field": "model", "type": "nominal", "scale": {"domain": ["PCM","UCM","PC based BN","GC based BN","PLV based BN"], "range": ["#ff0000","#0000ff","#008000","#ffebcd","#00bfbf"]}, "legend": {"title": null, "orient": "none", "legendX": 331, "legendY": 1301, "direction": "horizontal", "columns": 5}}, "fill": {"field": "model", "type": "nominal", "scale": {"domain": ["PCM","UCM","PC based BN","GC based BN","PLV based BN"], "range": ["#ff0000","#0000ff","#008000","#ffebcd","#00bfbf"]}, "legend": {"title": null, "orient": "none", "legendX": 331, "legendY": 1301, "direction": "horizontal", "columns": 5}}}},
{"data": {"name": "axes"}, "transform": [{"calculate": "1.16*sin(datum.i*PI/5)", "as": "lx"}, {"calculate": "1.16*cos(datum.i*PI/5)", "as": "ly"}], "mark": {"type": "text", "fontSize": 17, "align": "center", "baseline": "middle", "color": "black"}, "encoding": {"x": {"field": "lx", "type": "quantitative", "scale": {"domain": [-1.2712, 1.2712], "nice": false, "zero": false}, "axis": null}, "y": {"field": "ly", "type": "quantitative", "scale": {"domain": [-1.2288, 1.2288], "nice": false, "zero": false}, "axis": null}, "text": {"field": "axis", "type": "nominal"}}}
]}
]},
{"title": {"text": "EEG Theta Band", "offset": 0, "dx": -20}, "bounds": "flush", "spacing": 37, "resolve": {"scale": {"stroke": "shared", "fill": "shared", "size": "shared"}, "legend": {"stroke": "shared", "fill": "shared"}}, "hconcat": [
{"title": "Accuracy", "width": 300, "height": 290, "layer": [
{"data": {"name": "levels"}, "transform": [{"filter": "datum.level < 1"}, {"calculate": "(datum.level-0.3)/0.7", "as": "rr"}, {"calculate": "0", "as": "cx"}], "mark": {"type": "point", "shape": "circle", "filled": false, "stroke": "#d0d0d0", "strokeWidth": 1, "opacity": 1}, "encoding": {"x": {"field": "cx", "type": "quantitative", "scale": {"domain": [-1.2712, 1.2712], "nice": false, "zero": false}, "axis": null}, "y": {"field": "cx", "type": "quantitative", "scale": {"domain": [-1.2288, 1.2288], "nice": false, "zero": false}, "axis": null}, "size": {"field": "rr", "type": "quantitative", "scale": {"type": "pow", "exponent": 2, "domain": [0, 1], "range": [0, 43744]}, "legend": null}}},
{"data": {"name": "axes"}, "transform": [{"calculate": "sin(datum.i*PI/5)", "as": "fx"}, {"calculate": "cos(datum.i*PI/5)", "as": "fy"}, {"calculate": "0", "as": "cx"}], "mark": {"type": "rule", "stroke": "#d0d0d0", "strokeWidth": 1}, "encoding": {"x": {"field": "cx", "type": "quantitative", "scale": {"domain": [-1.2712, 1.2712], "nice": false, "zero": false}, "axis": null}, "y": {"field": "cx", "type": "quantitative", "scale": {"domain": [-1.2288, 1.2288], "nice": false, "zero": false}, "axis": null}, "x2": {"field": "fx"}, "y2": {"field": "fy"}}},
{"data": {"name": "axes"}, "transform": [{"calculate": "sin(datum.i*PI/5)", "as": "fx"}, {"calculate": "cos(datum.i*PI/5)", "as": "fy"}], "mark": {"type": "line", "interpolate": "linear-closed", "stroke": "#2b2b2b", "strokeWidth": 1}, "encoding": {"x": {"field": "fx", "type": "quantitative", "scale": {"domain": [-1.2712, 1.2712], "nice": false, "zero": false}, "axis": null}, "y": {"field": "fy", "type": "quantitative", "scale": {"domain": [-1.2288, 1.2288], "nice": false, "zero": false}, "axis": null}, "order": {"field": "i", "type": "quantitative"}}},
{"data": {"name": "levels"}, "transform": [{"calculate": "(datum.level-0.3)/0.7*sin(-PI/8)", "as": "tx"}, {"calculate": "(datum.level-0.3)/0.7*cos(PI/8)", "as": "ty"}], "mark": {"type": "text", "align": "left", "fontSize": 16, "color": "#262626", "dx": 5, "dy": -4}, "encoding": {"x": {"field": "tx", "type": "quantitative", "scale": {"domain": [-1.2712, 1.2712], "nice": false, "zero": false}, "axis": null}, "y": {"field": "ty", "type": "quantitative", "scale": {"domain": [-1.2288, 1.2288], "nice": false, "zero": false}, "axis": null}, "text": {"field": "label", "type": "nominal"}}},
{"data": {"name": "scores"}, "transform": [{"filter": "datum.band === 'Theta' && datum.metric === 'Accuracy'"}, {"fold": ["BYN","LGB","RF","AB","KNN","SL","J48","BG","SVM","NB"], "as": ["axis", "value"]}, {"calculate": "indexof(['BYN','LGB','RF','AB','KNN','SL','J48','BG','SVM','NB'], datum.axis)", "as": "i"}, {"calculate": "(datum.value-0.3)/0.7*sin(datum.i*PI/5)", "as": "px"}, {"calculate": "(datum.value-0.3)/0.7*cos(datum.i*PI/5)", "as": "py"}], "mark": {"type": "line", "interpolate": "linear-closed", "strokeWidth": 3, "fillOpacity": 0.25}, "encoding": {"x": {"field": "px", "type": "quantitative", "scale": {"domain": [-1.2712, 1.2712], "nice": false, "zero": false}, "axis": null}, "y": {"field": "py", "type": "quantitative", "scale": {"domain": [-1.2288, 1.2288], "nice": false, "zero": false}, "axis": null}, "order": {"field": "i", "type": "quantitative"}, "stroke": {"field": "model", "type": "nominal", "scale": {"domain": ["PCM","UCM","PC based BN","GC based BN","PLV based BN"], "range": ["#ff0000","#0000ff","#008000","#ffebcd","#00bfbf"]}, "legend": {"title": null, "orient": "none", "legendX": 331, "legendY": 1301, "direction": "horizontal", "columns": 5}}, "fill": {"field": "model", "type": "nominal", "scale": {"domain": ["PCM","UCM","PC based BN","GC based BN","PLV based BN"], "range": ["#ff0000","#0000ff","#008000","#ffebcd","#00bfbf"]}, "legend": {"title": null, "orient": "none", "legendX": 331, "legendY": 1301, "direction": "horizontal", "columns": 5}}}},
{"data": {"name": "axes"}, "transform": [{"calculate": "1.16*sin(datum.i*PI/5)", "as": "lx"}, {"calculate": "1.16*cos(datum.i*PI/5)", "as": "ly"}], "mark": {"type": "text", "fontSize": 17, "align": "center", "baseline": "middle", "color": "black"}, "encoding": {"x": {"field": "lx", "type": "quantitative", "scale": {"domain": [-1.2712, 1.2712], "nice": false, "zero": false}, "axis": null}, "y": {"field": "ly", "type": "quantitative", "scale": {"domain": [-1.2288, 1.2288], "nice": false, "zero": false}, "axis": null}, "text": {"field": "axis", "type": "nominal"}}}
]},
{"title": "Precision", "width": 300, "height": 290, "layer": [
{"data": {"name": "levels"}, "transform": [{"filter": "datum.level < 1"}, {"calculate": "(datum.level-0.3)/0.7", "as": "rr"}, {"calculate": "0", "as": "cx"}], "mark": {"type": "point", "shape": "circle", "filled": false, "stroke": "#d0d0d0", "strokeWidth": 1, "opacity": 1}, "encoding": {"x": {"field": "cx", "type": "quantitative", "scale": {"domain": [-1.2712, 1.2712], "nice": false, "zero": false}, "axis": null}, "y": {"field": "cx", "type": "quantitative", "scale": {"domain": [-1.2288, 1.2288], "nice": false, "zero": false}, "axis": null}, "size": {"field": "rr", "type": "quantitative", "scale": {"type": "pow", "exponent": 2, "domain": [0, 1], "range": [0, 43744]}, "legend": null}}},
{"data": {"name": "axes"}, "transform": [{"calculate": "sin(datum.i*PI/5)", "as": "fx"}, {"calculate": "cos(datum.i*PI/5)", "as": "fy"}, {"calculate": "0", "as": "cx"}], "mark": {"type": "rule", "stroke": "#d0d0d0", "strokeWidth": 1}, "encoding": {"x": {"field": "cx", "type": "quantitative", "scale": {"domain": [-1.2712, 1.2712], "nice": false, "zero": false}, "axis": null}, "y": {"field": "cx", "type": "quantitative", "scale": {"domain": [-1.2288, 1.2288], "nice": false, "zero": false}, "axis": null}, "x2": {"field": "fx"}, "y2": {"field": "fy"}}},
{"data": {"name": "axes"}, "transform": [{"calculate": "sin(datum.i*PI/5)", "as": "fx"}, {"calculate": "cos(datum.i*PI/5)", "as": "fy"}], "mark": {"type": "line", "interpolate": "linear-closed", "stroke": "#2b2b2b", "strokeWidth": 1}, "encoding": {"x": {"field": "fx", "type": "quantitative", "scale": {"domain": [-1.2712, 1.2712], "nice": false, "zero": false}, "axis": null}, "y": {"field": "fy", "type": "quantitative", "scale": {"domain": [-1.2288, 1.2288], "nice": false, "zero": false}, "axis": null}, "order": {"field": "i", "type": "quantitative"}}},
{"data": {"name": "levels"}, "transform": [{"calculate": "(datum.level-0.3)/0.7*sin(-PI/8)", "as": "tx"}, {"calculate": "(datum.level-0.3)/0.7*cos(PI/8)", "as": "ty"}], "mark": {"type": "text", "align": "left", "fontSize": 16, "color": "#262626", "dx": 5, "dy": -4}, "encoding": {"x": {"field": "tx", "type": "quantitative", "scale": {"domain": [-1.2712, 1.2712], "nice": false, "zero": false}, "axis": null}, "y": {"field": "ty", "type": "quantitative", "scale": {"domain": [-1.2288, 1.2288], "nice": false, "zero": false}, "axis": null}, "text": {"field": "label", "type": "nominal"}}},
{"data": {"name": "scores"}, "transform": [{"filter": "datum.band === 'Theta' && datum.metric === 'Precision'"}, {"fold": ["BYN","LGB","RF","AB","KNN","SL","J48","BG","SVM","NB"], "as": ["axis", "value"]}, {"calculate": "indexof(['BYN','LGB','RF','AB','KNN','SL','J48','BG','SVM','NB'], datum.axis)", "as": "i"}, {"calculate": "(datum.value-0.3)/0.7*sin(datum.i*PI/5)", "as": "px"}, {"calculate": "(datum.value-0.3)/0.7*cos(datum.i*PI/5)", "as": "py"}], "mark": {"type": "line", "interpolate": "linear-closed", "strokeWidth": 3, "fillOpacity": 0.25}, "encoding": {"x": {"field": "px", "type": "quantitative", "scale": {"domain": [-1.2712, 1.2712], "nice": false, "zero": false}, "axis": null}, "y": {"field": "py", "type": "quantitative", "scale": {"domain": [-1.2288, 1.2288], "nice": false, "zero": false}, "axis": null}, "order": {"field": "i", "type": "quantitative"}, "stroke": {"field": "model", "type": "nominal", "scale": {"domain": ["PCM","UCM","PC based BN","GC based BN","PLV based BN"], "range": ["#ff0000","#0000ff","#008000","#ffebcd","#00bfbf"]}, "legend": {"title": null, "orient": "none", "legendX": 331, "legendY": 1301, "direction": "horizontal", "columns": 5}}, "fill": {"field": "model", "type": "nominal", "scale": {"domain": ["PCM","UCM","PC based BN","GC based BN","PLV based BN"], "range": ["#ff0000","#0000ff","#008000","#ffebcd","#00bfbf"]}, "legend": {"title": null, "orient": "none", "legendX": 331, "legendY": 1301, "direction": "horizontal", "columns": 5}}}},
{"data": {"name": "axes"}, "transform": [{"calculate": "1.16*sin(datum.i*PI/5)", "as": "lx"}, {"calculate": "1.16*cos(datum.i*PI/5)", "as": "ly"}], "mark": {"type": "text", "fontSize": 17, "align": "center", "baseline": "middle", "color": "black"}, "encoding": {"x": {"field": "lx", "type": "quantitative", "scale": {"domain": [-1.2712, 1.2712], "nice": false, "zero": false}, "axis": null}, "y": {"field": "ly", "type": "quantitative", "scale": {"domain": [-1.2288, 1.2288], "nice": false, "zero": false}, "axis": null}, "text": {"field": "axis", "type": "nominal"}}}
]},
{"title": "Recall", "width": 300, "height": 290, "layer": [
{"data": {"name": "levels"}, "transform": [{"filter": "datum.level < 1"}, {"calculate": "(datum.level-0.3)/0.7", "as": "rr"}, {"calculate": "0", "as": "cx"}], "mark": {"type": "point", "shape": "circle", "filled": false, "stroke": "#d0d0d0", "strokeWidth": 1, "opacity": 1}, "encoding": {"x": {"field": "cx", "type": "quantitative", "scale": {"domain": [-1.2712, 1.2712], "nice": false, "zero": false}, "axis": null}, "y": {"field": "cx", "type": "quantitative", "scale": {"domain": [-1.2288, 1.2288], "nice": false, "zero": false}, "axis": null}, "size": {"field": "rr", "type": "quantitative", "scale": {"type": "pow", "exponent": 2, "domain": [0, 1], "range": [0, 43744]}, "legend": null}}},
{"data": {"name": "axes"}, "transform": [{"calculate": "sin(datum.i*PI/5)", "as": "fx"}, {"calculate": "cos(datum.i*PI/5)", "as": "fy"}, {"calculate": "0", "as": "cx"}], "mark": {"type": "rule", "stroke": "#d0d0d0", "strokeWidth": 1}, "encoding": {"x": {"field": "cx", "type": "quantitative", "scale": {"domain": [-1.2712, 1.2712], "nice": false, "zero": false}, "axis": null}, "y": {"field": "cx", "type": "quantitative", "scale": {"domain": [-1.2288, 1.2288], "nice": false, "zero": false}, "axis": null}, "x2": {"field": "fx"}, "y2": {"field": "fy"}}},
{"data": {"name": "axes"}, "transform": [{"calculate": "sin(datum.i*PI/5)", "as": "fx"}, {"calculate": "cos(datum.i*PI/5)", "as": "fy"}], "mark": {"type": "line", "interpolate": "linear-closed", "stroke": "#2b2b2b", "strokeWidth": 1}, "encoding": {"x": {"field": "fx", "type": "quantitative", "scale": {"domain": [-1.2712, 1.2712], "nice": false, "zero": false}, "axis": null}, "y": {"field": "fy", "type": "quantitative", "scale": {"domain": [-1.2288, 1.2288], "nice": false, "zero": false}, "axis": null}, "order": {"field": "i", "type": "quantitative"}}},
{"data": {"name": "levels"}, "transform": [{"calculate": "(datum.level-0.3)/0.7*sin(-PI/8)", "as": "tx"}, {"calculate": "(datum.level-0.3)/0.7*cos(PI/8)", "as": "ty"}], "mark": {"type": "text", "align": "left", "fontSize": 16, "color": "#262626", "dx": 5, "dy": -4}, "encoding": {"x": {"field": "tx", "type": "quantitative", "scale": {"domain": [-1.2712, 1.2712], "nice": false, "zero": false}, "axis": null}, "y": {"field": "ty", "type": "quantitative", "scale": {"domain": [-1.2288, 1.2288], "nice": false, "zero": false}, "axis": null}, "text": {"field": "label", "type": "nominal"}}},
{"data": {"name": "scores"}, "transform": [{"filter": "datum.band === 'Theta' && datum.metric === 'Recall'"}, {"fold": ["BYN","LGB","RF","AB","KNN","SL","J48","BG","SVM","NB"], "as": ["axis", "value"]}, {"calculate": "indexof(['BYN','LGB','RF','AB','KNN','SL','J48','BG','SVM','NB'], datum.axis)", "as": "i"}, {"calculate": "(datum.value-0.3)/0.7*sin(datum.i*PI/5)", "as": "px"}, {"calculate": "(datum.value-0.3)/0.7*cos(datum.i*PI/5)", "as": "py"}], "mark": {"type": "line", "interpolate": "linear-closed", "strokeWidth": 3, "fillOpacity": 0.25}, "encoding": {"x": {"field": "px", "type": "quantitative", "scale": {"domain": [-1.2712, 1.2712], "nice": false, "zero": false}, "axis": null}, "y": {"field": "py", "type": "quantitative", "scale": {"domain": [-1.2288, 1.2288], "nice": false, "zero": false}, "axis": null}, "order": {"field": "i", "type": "quantitative"}, "stroke": {"field": "model", "type": "nominal", "scale": {"domain": ["PCM","UCM","PC based BN","GC based BN","PLV based BN"], "range": ["#ff0000","#0000ff","#008000","#ffebcd","#00bfbf"]}, "legend": {"title": null, "orient": "none", "legendX": 331, "legendY": 1301, "direction": "horizontal", "columns": 5}}, "fill": {"field": "model", "type": "nominal", "scale": {"domain": ["PCM","UCM","PC based BN","GC based BN","PLV based BN"], "range": ["#ff0000","#0000ff","#008000","#ffebcd","#00bfbf"]}, "legend": {"title": null, "orient": "none", "legendX": 331, "legendY": 1301, "direction": "horizontal", "columns": 5}}}},
{"data": {"name": "axes"}, "transform": [{"calculate": "1.16*sin(datum.i*PI/5)", "as": "lx"}, {"calculate": "1.16*cos(datum.i*PI/5)", "as": "ly"}], "mark": {"type": "text", "fontSize": 17, "align": "center", "baseline": "middle", "color": "black"}, "encoding": {"x": {"field": "lx", "type": "quantitative", "scale": {"domain": [-1.2712, 1.2712], "nice": false, "zero": false}, "axis": null}, "y": {"field": "ly", "type": "quantitative", "scale": {"domain": [-1.2288, 1.2288], "nice": false, "zero": false}, "axis": null}, "text": {"field": "axis", "type": "nominal"}}}
]},
{"title": "AUC", "width": 300, "height": 290, "layer": [
{"data": {"name": "levels"}, "transform": [{"filter": "datum.level < 1"}, {"calculate": "(datum.level-0.3)/0.7", "as": "rr"}, {"calculate": "0", "as": "cx"}], "mark": {"type": "point", "shape": "circle", "filled": false, "stroke": "#d0d0d0", "strokeWidth": 1, "opacity": 1}, "encoding": {"x": {"field": "cx", "type": "quantitative", "scale": {"domain": [-1.2712, 1.2712], "nice": false, "zero": false}, "axis": null}, "y": {"field": "cx", "type": "quantitative", "scale": {"domain": [-1.2288, 1.2288], "nice": false, "zero": false}, "axis": null}, "size": {"field": "rr", "type": "quantitative", "scale": {"type": "pow", "exponent": 2, "domain": [0, 1], "range": [0, 43744]}, "legend": null}}},
{"data": {"name": "axes"}, "transform": [{"calculate": "sin(datum.i*PI/5)", "as": "fx"}, {"calculate": "cos(datum.i*PI/5)", "as": "fy"}, {"calculate": "0", "as": "cx"}], "mark": {"type": "rule", "stroke": "#d0d0d0", "strokeWidth": 1}, "encoding": {"x": {"field": "cx", "type": "quantitative", "scale": {"domain": [-1.2712, 1.2712], "nice": false, "zero": false}, "axis": null}, "y": {"field": "cx", "type": "quantitative", "scale": {"domain": [-1.2288, 1.2288], "nice": false, "zero": false}, "axis": null}, "x2": {"field": "fx"}, "y2": {"field": "fy"}}},
{"data": {"name": "axes"}, "transform": [{"calculate": "sin(datum.i*PI/5)", "as": "fx"}, {"calculate": "cos(datum.i*PI/5)", "as": "fy"}], "mark": {"type": "line", "interpolate": "linear-closed", "stroke": "#2b2b2b", "strokeWidth": 1}, "encoding": {"x": {"field": "fx", "type": "quantitative", "scale": {"domain": [-1.2712, 1.2712], "nice": false, "zero": false}, "axis": null}, "y": {"field": "fy", "type": "quantitative", "scale": {"domain": [-1.2288, 1.2288], "nice": false, "zero": false}, "axis": null}, "order": {"field": "i", "type": "quantitative"}}},
{"data": {"name": "levels"}, "transform": [{"calculate": "(datum.level-0.3)/0.7*sin(-PI/8)", "as": "tx"}, {"calculate": "(datum.level-0.3)/0.7*cos(PI/8)", "as": "ty"}], "mark": {"type": "text", "align": "left", "fontSize": 16, "color": "#262626", "dx": 5, "dy": -4}, "encoding": {"x": {"field": "tx", "type": "quantitative", "scale": {"domain": [-1.2712, 1.2712], "nice": false, "zero": false}, "axis": null}, "y": {"field": "ty", "type": "quantitative", "scale": {"domain": [-1.2288, 1.2288], "nice": false, "zero": false}, "axis": null}, "text": {"field": "label", "type": "nominal"}}},
{"data": {"name": "scores"}, "transform": [{"filter": "datum.band === 'Theta' && datum.metric === 'AUC'"}, {"fold": ["BYN","LGB","RF","AB","KNN","SL","J48","BG","SVM","NB"], "as": ["axis", "value"]}, {"calculate": "indexof(['BYN','LGB','RF','AB','KNN','SL','J48','BG','SVM','NB'], datum.axis)", "as": "i"}, {"calculate": "(datum.value-0.3)/0.7*sin(datum.i*PI/5)", "as": "px"}, {"calculate": "(datum.value-0.3)/0.7*cos(datum.i*PI/5)", "as": "py"}], "mark": {"type": "line", "interpolate": "linear-closed", "strokeWidth": 3, "fillOpacity": 0.25}, "encoding": {"x": {"field": "px", "type": "quantitative", "scale": {"domain": [-1.2712, 1.2712], "nice": false, "zero": false}, "axis": null}, "y": {"field": "py", "type": "quantitative", "scale": {"domain": [-1.2288, 1.2288], "nice": false, "zero": false}, "axis": null}, "order": {"field": "i", "type": "quantitative"}, "stroke": {"field": "model", "type": "nominal", "scale": {"domain": ["PCM","UCM","PC based BN","GC based BN","PLV based BN"], "range": ["#ff0000","#0000ff","#008000","#ffebcd","#00bfbf"]}, "legend": {"title": null, "orient": "none", "legendX": 331, "legendY": 1301, "direction": "horizontal", "columns": 5}}, "fill": {"field": "model", "type": "nominal", "scale": {"domain": ["PCM","UCM","PC based BN","GC based BN","PLV based BN"], "range": ["#ff0000","#0000ff","#008000","#ffebcd","#00bfbf"]}, "legend": {"title": null, "orient": "none", "legendX": 331, "legendY": 1301, "direction": "horizontal", "columns": 5}}}},
{"data": {"name": "axes"}, "transform": [{"calculate": "1.16*sin(datum.i*PI/5)", "as": "lx"}, {"calculate": "1.16*cos(datum.i*PI/5)", "as": "ly"}], "mark": {"type": "text", "fontSize": 17, "align": "center", "baseline": "middle", "color": "black"}, "encoding": {"x": {"field": "lx", "type": "quantitative", "scale": {"domain": [-1.2712, 1.2712], "nice": false, "zero": false}, "axis": null}, "y": {"field": "ly", "type": "quantitative", "scale": {"domain": [-1.2288, 1.2288], "nice": false, "zero": false}, "axis": null}, "text": {"field": "axis", "type": "nominal"}}}
]}
]},
{"title": {"text": "EEG Alpha Band", "offset": 0, "dx": -20}, "bounds": "flush", "spacing": 37, "resolve": {"scale": {"stroke": "shared", "fill": "shared", "size": "shared"}, "legend": {"stroke": "shared", "fill": "shared"}}, "hconcat": [
{"title": "Accuracy", "width": 300, "height": 290, "layer": [
{"data": {"name": "levels"}, "transform": [{"filter": "datum.level < 1"}, {"calculate": "(datum.level-0.3)/0.7", "as": "rr"}, {"calculate": "0", "as": "cx"}], "mark": {"type": "point", "shape": "circle", "filled": false, "stroke": "#d0d0d0", "strokeWidth": 1, "opacity": 1}, "encoding": {"x": {"field": "cx", "type": "quantitative", "scale": {"domain": [-1.2712, 1.2712], "nice": false, "zero": false}, "axis": null}, "y": {"field": "cx", "type": "quantitative", "scale": {"domain": [-1.2288, 1.2288], "nice": false, "zero": false}, "axis": null}, "size": {"field": "rr", "type": "quantitative", "scale": {"type": "pow", "exponent": 2, "domain": [0, 1], "range": [0, 43744]}, "legend": null}}},
{"data": {"name": "axes"}, "transform": [{"calculate": "sin(datum.i*PI/5)", "as": "fx"}, {"calculate": "cos(datum.i*PI/5)", "as": "fy"}, {"calculate": "0", "as": "cx"}], "mark": {"type": "rule", "stroke": "#d0d0d0", "strokeWidth": 1}, "encoding": {"x": {"field": "cx", "type": "quantitative", "scale": {"domain": [-1.2712, 1.2712], "nice": false, "zero": false}, "axis": null}, "y": {"field": "cx", "type": "quantitative", "scale": {"domain": [-1.2288, 1.2288], "nice": false, "zero": false}, "axis": null}, "x2": {"field": "fx"}, "y2": {"field": "fy"}}},
{"data": {"name": "axes"}, "transform": [{"calculate": "sin(datum.i*PI/5)", "as": "fx"}, {"calculate": "cos(datum.i*PI/5)", "as": "fy"}], "mark": {"type": "line", "interpolate": "linear-closed", "stroke": "#2b2b2b", "strokeWidth": 1}, "encoding": {"x": {"field": "fx", "type": "quantitative", "scale": {"domain": [-1.2712, 1.2712], "nice": false, "zero": false}, "axis": null}, "y": {"field": "fy", "type": "quantitative", "scale": {"domain": [-1.2288, 1.2288], "nice": false, "zero": false}, "axis": null}, "order": {"field": "i", "type": "quantitative"}}},
{"data": {"name": "levels"}, "transform": [{"calculate": "(datum.level-0.3)/0.7*sin(-PI/8)", "as": "tx"}, {"calculate": "(datum.level-0.3)/0.7*cos(PI/8)", "as": "ty"}], "mark": {"type": "text", "align": "left", "fontSize": 16, "color": "#262626", "dx": 5, "dy": -4}, "encoding": {"x": {"field": "tx", "type": "quantitative", "scale": {"domain": [-1.2712, 1.2712], "nice": false, "zero": false}, "axis": null}, "y": {"field": "ty", "type": "quantitative", "scale": {"domain": [-1.2288, 1.2288], "nice": false, "zero": false}, "axis": null}, "text": {"field": "label", "type": "nominal"}}},
{"data": {"name": "scores"}, "transform": [{"filter": "datum.band === 'Alpha' && datum.metric === 'Accuracy'"}, {"fold": ["BYN","LGB","RF","AB","KNN","SL","J48","BG","SVM","NB"], "as": ["axis", "value"]}, {"calculate": "indexof(['BYN','LGB','RF','AB','KNN','SL','J48','BG','SVM','NB'], datum.axis)", "as": "i"}, {"calculate": "(datum.value-0.3)/0.7*sin(datum.i*PI/5)", "as": "px"}, {"calculate": "(datum.value-0.3)/0.7*cos(datum.i*PI/5)", "as": "py"}], "mark": {"type": "line", "interpolate": "linear-closed", "strokeWidth": 3, "fillOpacity": 0.25}, "encoding": {"x": {"field": "px", "type": "quantitative", "scale": {"domain": [-1.2712, 1.2712], "nice": false, "zero": false}, "axis": null}, "y": {"field": "py", "type": "quantitative", "scale": {"domain": [-1.2288, 1.2288], "nice": false, "zero": false}, "axis": null}, "order": {"field": "i", "type": "quantitative"}, "stroke": {"field": "model", "type": "nominal", "scale": {"domain": ["PCM","UCM","PC based BN","GC based BN","PLV based BN"], "range": ["#ff0000","#0000ff","#008000","#ffebcd","#00bfbf"]}, "legend": {"title": null, "orient": "none", "legendX": 331, "legendY": 1301, "direction": "horizontal", "columns": 5}}, "fill": {"field": "model", "type": "nominal", "scale": {"domain": ["PCM","UCM","PC based BN","GC based BN","PLV based BN"], "range": ["#ff0000","#0000ff","#008000","#ffebcd","#00bfbf"]}, "legend": {"title": null, "orient": "none", "legendX": 331, "legendY": 1301, "direction": "horizontal", "columns": 5}}}},
{"data": {"name": "axes"}, "transform": [{"calculate": "1.16*sin(datum.i*PI/5)", "as": "lx"}, {"calculate": "1.16*cos(datum.i*PI/5)", "as": "ly"}], "mark": {"type": "text", "fontSize": 17, "align": "center", "baseline": "middle", "color": "black"}, "encoding": {"x": {"field": "lx", "type": "quantitative", "scale": {"domain": [-1.2712, 1.2712], "nice": false, "zero": false}, "axis": null}, "y": {"field": "ly", "type": "quantitative", "scale": {"domain": [-1.2288, 1.2288], "nice": false, "zero": false}, "axis": null}, "text": {"field": "axis", "type": "nominal"}}}
]},
{"title": "Precision", "width": 300, "height": 290, "layer": [
{"data": {"name": "levels"}, "transform": [{"filter": "datum.level < 1"}, {"calculate": "(datum.level-0.3)/0.7", "as": "rr"}, {"calculate": "0", "as": "cx"}], "mark": {"type": "point", "shape": "circle", "filled": false, "stroke": "#d0d0d0", "strokeWidth": 1, "opacity": 1}, "encoding": {"x": {"field": "cx", "type": "quantitative", "scale": {"domain": [-1.2712, 1.2712], "nice": false, "zero": false}, "axis": null}, "y": {"field": "cx", "type": "quantitative", "scale": {"domain": [-1.2288, 1.2288], "nice": false, "zero": false}, "axis": null}, "size": {"field": "rr", "type": "quantitative", "scale": {"type": "pow", "exponent": 2, "domain": [0, 1], "range": [0, 43744]}, "legend": null}}},
{"data": {"name": "axes"}, "transform": [{"calculate": "sin(datum.i*PI/5)", "as": "fx"}, {"calculate": "cos(datum.i*PI/5)", "as": "fy"}, {"calculate": "0", "as": "cx"}], "mark": {"type": "rule", "stroke": "#d0d0d0", "strokeWidth": 1}, "encoding": {"x": {"field": "cx", "type": "quantitative", "scale": {"domain": [-1.2712, 1.2712], "nice": false, "zero": false}, "axis": null}, "y": {"field": "cx", "type": "quantitative", "scale": {"domain": [-1.2288, 1.2288], "nice": false, "zero": false}, "axis": null}, "x2": {"field": "fx"}, "y2": {"field": "fy"}}},
{"data": {"name": "axes"}, "transform": [{"calculate": "sin(datum.i*PI/5)", "as": "fx"}, {"calculate": "cos(datum.i*PI/5)", "as": "fy"}], "mark": {"type": "line", "interpolate": "linear-closed", "stroke": "#2b2b2b", "strokeWidth": 1}, "encoding": {"x": {"field": "fx", "type": "quantitative", "scale": {"domain": [-1.2712, 1.2712], "nice": false, "zero": false}, "axis": null}, "y": {"field": "fy", "type": "quantitative", "scale": {"domain": [-1.2288, 1.2288], "nice": false, "zero": false}, "axis": null}, "order": {"field": "i", "type": "quantitative"}}},
{"data": {"name": "levels"}, "transform": [{"calculate": "(datum.level-0.3)/0.7*sin(-PI/8)", "as": "tx"}, {"calculate": "(datum.level-0.3)/0.7*cos(PI/8)", "as": "ty"}], "mark": {"type": "text", "align": "left", "fontSize": 16, "color": "#262626", "dx": 5, "dy": -4}, "encoding": {"x": {"field": "tx", "type": "quantitative", "scale": {"domain": [-1.2712, 1.2712], "nice": false, "zero": false}, "axis": null}, "y": {"field": "ty", "type": "quantitative", "scale": {"domain": [-1.2288, 1.2288], "nice": false, "zero": false}, "axis": null}, "text": {"field": "label", "type": "nominal"}}},
{"data": {"name": "scores"}, "transform": [{"filter": "datum.band === 'Alpha' && datum.metric === 'Precision'"}, {"fold": ["BYN","LGB","RF","AB","KNN","SL","J48","BG","SVM","NB"], "as": ["axis", "value"]}, {"calculate": "indexof(['BYN','LGB','RF','AB','KNN','SL','J48','BG','SVM','NB'], datum.axis)", "as": "i"}, {"calculate": "(datum.value-0.3)/0.7*sin(datum.i*PI/5)", "as": "px"}, {"calculate": "(datum.value-0.3)/0.7*cos(datum.i*PI/5)", "as": "py"}], "mark": {"type": "line", "interpolate": "linear-closed", "strokeWidth": 3, "fillOpacity": 0.25}, "encoding": {"x": {"field": "px", "type": "quantitative", "scale": {"domain": [-1.2712, 1.2712], "nice": false, "zero": false}, "axis": null}, "y": {"field": "py", "type": "quantitative", "scale": {"domain": [-1.2288, 1.2288], "nice": false, "zero": false}, "axis": null}, "order": {"field": "i", "type": "quantitative"}, "stroke": {"field": "model", "type": "nominal", "scale": {"domain": ["PCM","UCM","PC based BN","GC based BN","PLV based BN"], "range": ["#ff0000","#0000ff","#008000","#ffebcd","#00bfbf"]}, "legend": {"title": null, "orient": "none", "legendX": 331, "legendY": 1301, "direction": "horizontal", "columns": 5}}, "fill": {"field": "model", "type": "nominal", "scale": {"domain": ["PCM","UCM","PC based BN","GC based BN","PLV based BN"], "range": ["#ff0000","#0000ff","#008000","#ffebcd","#00bfbf"]}, "legend": {"title": null, "orient": "none", "legendX": 331, "legendY": 1301, "direction": "horizontal", "columns": 5}}}},
{"data": {"name": "axes"}, "transform": [{"calculate": "1.16*sin(datum.i*PI/5)", "as": "lx"}, {"calculate": "1.16*cos(datum.i*PI/5)", "as": "ly"}], "mark": {"type": "text", "fontSize": 17, "align": "center", "baseline": "middle", "color": "black"}, "encoding": {"x": {"field": "lx", "type": "quantitative", "scale": {"domain": [-1.2712, 1.2712], "nice": false, "zero": false}, "axis": null}, "y": {"field": "ly", "type": "quantitative", "scale": {"domain": [-1.2288, 1.2288], "nice": false, "zero": false}, "axis": null}, "text": {"field": "axis", "type": "nominal"}}}
]},
{"title": "Recall", "width": 300, "height": 290, "layer": [
{"data": {"name": "levels"}, "transform": [{"filter": "datum.level < 1"}, {"calculate": "(datum.level-0.3)/0.7", "as": "rr"}, {"calculate": "0", "as": "cx"}], "mark": {"type": "point", "shape": "circle", "filled": false, "stroke": "#d0d0d0", "strokeWidth": 1, "opacity": 1}, "encoding": {"x": {"field": "cx", "type": "quantitative", "scale": {"domain": [-1.2712, 1.2712], "nice": false, "zero": false}, "axis": null}, "y": {"field": "cx", "type": "quantitative", "scale": {"domain": [-1.2288, 1.2288], "nice": false, "zero": false}, "axis": null}, "size": {"field": "rr", "type": "quantitative", "scale": {"type": "pow", "exponent": 2, "domain": [0, 1], "range": [0, 43744]}, "legend": null}}},
{"data": {"name": "axes"}, "transform": [{"calculate": "sin(datum.i*PI/5)", "as": "fx"}, {"calculate": "cos(datum.i*PI/5)", "as": "fy"}, {"calculate": "0", "as": "cx"}], "mark": {"type": "rule", "stroke": "#d0d0d0", "strokeWidth": 1}, "encoding": {"x": {"field": "cx", "type": "quantitative", "scale": {"domain": [-1.2712, 1.2712], "nice": false, "zero": false}, "axis": null}, "y": {"field": "cx", "type": "quantitative", "scale": {"domain": [-1.2288, 1.2288], "nice": false, "zero": false}, "axis": null}, "x2": {"field": "fx"}, "y2": {"field": "fy"}}},
{"data": {"name": "axes"}, "transform": [{"calculate": "sin(datum.i*PI/5)", "as": "fx"}, {"calculate": "cos(datum.i*PI/5)", "as": "fy"}], "mark": {"type": "line", "interpolate": "linear-closed", "stroke": "#2b2b2b", "strokeWidth": 1}, "encoding": {"x": {"field": "fx", "type": "quantitative", "scale": {"domain": [-1.2712, 1.2712], "nice": false, "zero": false}, "axis": null}, "y": {"field": "fy", "type": "quantitative", "scale": {"domain": [-1.2288, 1.2288], "nice": false, "zero": false}, "axis": null}, "order": {"field": "i", "type": "quantitative"}}},
{"data": {"name": "levels"}, "transform": [{"calculate": "(datum.level-0.3)/0.7*sin(-PI/8)", "as": "tx"}, {"calculate": "(datum.level-0.3)/0.7*cos(PI/8)", "as": "ty"}], "mark": {"type": "text", "align": "left", "fontSize": 16, "color": "#262626", "dx": 5, "dy": -4}, "encoding": {"x": {"field": "tx", "type": "quantitative", "scale": {"domain": [-1.2712, 1.2712], "nice": false, "zero": false}, "axis": null}, "y": {"field": "ty", "type": "quantitative", "scale": {"domain": [-1.2288, 1.2288], "nice": false, "zero": false}, "axis": null}, "text": {"field": "label", "type": "nominal"}}},
{"data": {"name": "scores"}, "transform": [{"filter": "datum.band === 'Alpha' && datum.metric === 'Recall'"}, {"fold": ["BYN","LGB","RF","AB","KNN","SL","J48","BG","SVM","NB"], "as": ["axis", "value"]}, {"calculate": "indexof(['BYN','LGB','RF','AB','KNN','SL','J48','BG','SVM','NB'], datum.axis)", "as": "i"}, {"calculate": "(datum.value-0.3)/0.7*sin(datum.i*PI/5)", "as": "px"}, {"calculate": "(datum.value-0.3)/0.7*cos(datum.i*PI/5)", "as": "py"}], "mark": {"type": "line", "interpolate": "linear-closed", "strokeWidth": 3, "fillOpacity": 0.25}, "encoding": {"x": {"field": "px", "type": "quantitative", "scale": {"domain": [-1.2712, 1.2712], "nice": false, "zero": false}, "axis": null}, "y": {"field": "py", "type": "quantitative", "scale": {"domain": [-1.2288, 1.2288], "nice": false, "zero": false}, "axis": null}, "order": {"field": "i", "type": "quantitative"}, "stroke": {"field": "model", "type": "nominal", "scale": {"domain": ["PCM","UCM","PC based BN","GC based BN","PLV based BN"], "range": ["#ff0000","#0000ff","#008000","#ffebcd","#00bfbf"]}, "legend": {"title": null, "orient": "none", "legendX": 331, "legendY": 1301, "direction": "horizontal", "columns": 5}}, "fill": {"field": "model", "type": "nominal", "scale": {"domain": ["PCM","UCM","PC based BN","GC based BN","PLV based BN"], "range": ["#ff0000","#0000ff","#008000","#ffebcd","#00bfbf"]}, "legend": {"title": null, "orient": "none", "legendX": 331, "legendY": 1301, "direction": "horizontal", "columns": 5}}}},
{"data": {"name": "axes"}, "transform": [{"calculate": "1.16*sin(datum.i*PI/5)", "as": "lx"}, {"calculate": "1.16*cos(datum.i*PI/5)", "as": "ly"}], "mark": {"type": "text", "fontSize": 17, "align": "center", "baseline": "middle", "color": "black"}, "encoding": {"x": {"field": "lx", "type": "quantitative", "scale": {"domain": [-1.2712, 1.2712], "nice": false, "zero": false}, "axis": null}, "y": {"field": "ly", "type": "quantitative", "scale": {"domain": [-1.2288, 1.2288], "nice": false, "zero": false}, "axis": null}, "text": {"field": "axis", "type": "nominal"}}}
]},
{"title": "AUC", "width": 300, "height": 290, "layer": [
{"data": {"name": "levels"}, "transform": [{"filter": "datum.level < 1"}, {"calculate": "(datum.level-0.3)/0.7", "as": "rr"}, {"calculate": "0", "as": "cx"}], "mark": {"type": "point", "shape": "circle", "filled": false, "stroke": "#d0d0d0", "strokeWidth": 1, "opacity": 1}, "encoding": {"x": {"field": "cx", "type": "quantitative", "scale": {"domain": [-1.2712, 1.2712], "nice": false, "zero": false}, "axis": null}, "y": {"field": "cx", "type": "quantitative", "scale": {"domain": [-1.2288, 1.2288], "nice": false, "zero": false}, "axis": null}, "size": {"field": "rr", "type": "quantitative", "scale": {"type": "pow", "exponent": 2, "domain": [0, 1], "range": [0, 43744]}, "legend": null}}},
{"data": {"name": "axes"}, "transform": [{"calculate": "sin(datum.i*PI/5)", "as": "fx"}, {"calculate": "cos(datum.i*PI/5)", "as": "fy"}, {"calculate": "0", "as": "cx"}], "mark": {"type": "rule", "stroke": "#d0d0d0", "strokeWidth": 1}, "encoding": {"x": {"field": "cx", "type": "quantitative", "scale": {"domain": [-1.2712, 1.2712], "nice": false, "zero": false}, "axis": null}, "y": {"field": "cx", "type": "quantitative", "scale": {"domain": [-1.2288, 1.2288], "nice": false, "zero": false}, "axis": null}, "x2": {"field": "fx"}, "y2": {"field": "fy"}}},
{"data": {"name": "axes"}, "transform": [{"calculate": "sin(datum.i*PI/5)", "as": "fx"}, {"calculate": "cos(datum.i*PI/5)", "as": "fy"}], "mark": {"type": "line", "interpolate": "linear-closed", "stroke": "#2b2b2b", "strokeWidth": 1}, "encoding": {"x": {"field": "fx", "type": "quantitative", "scale": {"domain": [-1.2712, 1.2712], "nice": false, "zero": false}, "axis": null}, "y": {"field": "fy", "type": "quantitative", "scale": {"domain": [-1.2288, 1.2288], "nice": false, "zero": false}, "axis": null}, "order": {"field": "i", "type": "quantitative"}}},
{"data": {"name": "levels"}, "transform": [{"calculate": "(datum.level-0.3)/0.7*sin(-PI/8)", "as": "tx"}, {"calculate": "(datum.level-0.3)/0.7*cos(PI/8)", "as": "ty"}], "mark": {"type": "text", "align": "left", "fontSize": 16, "color": "#262626", "dx": 5, "dy": -4}, "encoding": {"x": {"field": "tx", "type": "quantitative", "scale": {"domain": [-1.2712, 1.2712], "nice": false, "zero": false}, "axis": null}, "y": {"field": "ty", "type": "quantitative", "scale": {"domain": [-1.2288, 1.2288], "nice": false, "zero": false}, "axis": null}, "text": {"field": "label", "type": "nominal"}}},
{"data": {"name": "scores"}, "transform": [{"filter": "datum.band === 'Alpha' && datum.metric === 'AUC'"}, {"fold": ["BYN","LGB","RF","AB","KNN","SL","J48","BG","SVM","NB"], "as": ["axis", "value"]}, {"calculate": "indexof(['BYN','LGB','RF','AB','KNN','SL','J48','BG','SVM','NB'], datum.axis)", "as": "i"}, {"calculate": "(datum.value-0.3)/0.7*sin(datum.i*PI/5)", "as": "px"}, {"calculate": "(datum.value-0.3)/0.7*cos(datum.i*PI/5)", "as": "py"}], "mark": {"type": "line", "interpolate": "linear-closed", "strokeWidth": 3, "fillOpacity": 0.25}, "encoding": {"x": {"field": "px", "type": "quantitative", "scale": {"domain": [-1.2712, 1.2712], "nice": false, "zero": false}, "axis": null}, "y": {"field": "py", "type": "quantitative", "scale": {"domain": [-1.2288, 1.2288], "nice": false, "zero": false}, "axis": null}, "order": {"field": "i", "type": "quantitative"}, "stroke": {"field": "model", "type": "nominal", "scale": {"domain": ["PCM","UCM","PC based BN","GC based BN","PLV based BN"], "range": ["#ff0000","#0000ff","#008000","#ffebcd","#00bfbf"]}, "legend": {"title": null, "orient": "none", "legendX": 331, "legendY": 1301, "direction": "horizontal", "columns": 5}}, "fill": {"field": "model", "type": "nominal", "scale": {"domain": ["PCM","UCM","PC based BN","GC based BN","PLV based BN"], "range": ["#ff0000","#0000ff","#008000","#ffebcd","#00bfbf"]}, "legend": {"title": null, "orient": "none", "legendX": 331, "legendY": 1301, "direction": "horizontal", "columns": 5}}}},
{"data": {"name": "axes"}, "transform": [{"calculate": "1.16*sin(datum.i*PI/5)", "as": "lx"}, {"calculate": "1.16*cos(datum.i*PI/5)", "as": "ly"}], "mark": {"type": "text", "fontSize": 17, "align": "center", "baseline": "middle", "color": "black"}, "encoding": {"x": {"field": "lx", "type": "quantitative", "scale": {"domain": [-1.2712, 1.2712], "nice": false, "zero": false}, "axis": null}, "y": {"field": "ly", "type": "quantitative", "scale": {"domain": [-1.2288, 1.2288], "nice": false, "zero": false}, "axis": null}, "text": {"field": "axis", "type": "nominal"}}}
]}
]},
{"title": {"text": "EEG Beta Band", "offset": 4, "dx": -20}, "bounds": "flush", "spacing": 37, "resolve": {"scale": {"stroke": "shared", "fill": "shared", "size": "shared"}, "legend": {"stroke": "shared", "fill": "shared"}}, "hconcat": [
{"title": "Accuracy", "width": 300, "height": 290, "layer": [
{"data": {"name": "levels"}, "transform": [{"filter": "datum.level < 1"}, {"calculate": "(datum.level-0.3)/0.7", "as": "rr"}, {"calculate": "0", "as": "cx"}], "mark": {"type": "point", "shape": "circle", "filled": false, "stroke": "#d0d0d0", "strokeWidth": 1, "opacity": 1}, "encoding": {"x": {"field": "cx", "type": "quantitative", "scale": {"domain": [-1.2712, 1.2712], "nice": false, "zero": false}, "axis": null}, "y": {"field": "cx", "type": "quantitative", "scale": {"domain": [-1.2288, 1.2288], "nice": false, "zero": false}, "axis": null}, "size": {"field": "rr", "type": "quantitative", "scale": {"type": "pow", "exponent": 2, "domain": [0, 1], "range": [0, 43744]}, "legend": null}}},
{"data": {"name": "axes"}, "transform": [{"calculate": "sin(datum.i*PI/5)", "as": "fx"}, {"calculate": "cos(datum.i*PI/5)", "as": "fy"}, {"calculate": "0", "as": "cx"}], "mark": {"type": "rule", "stroke": "#d0d0d0", "strokeWidth": 1}, "encoding": {"x": {"field": "cx", "type": "quantitative", "scale": {"domain": [-1.2712, 1.2712], "nice": false, "zero": false}, "axis": null}, "y": {"field": "cx", "type": "quantitative", "scale": {"domain": [-1.2288, 1.2288], "nice": false, "zero": false}, "axis": null}, "x2": {"field": "fx"}, "y2": {"field": "fy"}}},
{"data": {"name": "axes"}, "transform": [{"calculate": "sin(datum.i*PI/5)", "as": "fx"}, {"calculate": "cos(datum.i*PI/5)", "as": "fy"}], "mark": {"type": "line", "interpolate": "linear-closed", "stroke": "#2b2b2b", "strokeWidth": 1}, "encoding": {"x": {"field": "fx", "type": "quantitative", "scale": {"domain": [-1.2712, 1.2712], "nice": false, "zero": false}, "axis": null}, "y": {"field": "fy", "type": "quantitative", "scale": {"domain": [-1.2288, 1.2288], "nice": false, "zero": false}, "axis": null}, "order": {"field": "i", "type": "quantitative"}}},
{"data": {"name": "levels"}, "transform": [{"calculate": "(datum.level-0.3)/0.7*sin(-PI/8)", "as": "tx"}, {"calculate": "(datum.level-0.3)/0.7*cos(PI/8)", "as": "ty"}], "mark": {"type": "text", "align": "left", "fontSize": 16, "color": "#262626", "dx": 5, "dy": -4}, "encoding": {"x": {"field": "tx", "type": "quantitative", "scale": {"domain": [-1.2712, 1.2712], "nice": false, "zero": false}, "axis": null}, "y": {"field": "ty", "type": "quantitative", "scale": {"domain": [-1.2288, 1.2288], "nice": false, "zero": false}, "axis": null}, "text": {"field": "label", "type": "nominal"}}},
{"data": {"name": "scores"}, "transform": [{"filter": "datum.band === 'Beta' && datum.metric === 'Accuracy'"}, {"fold": ["BYN","LGB","RF","AB","KNN","SL","J48","BG","SVM","NB"], "as": ["axis", "value"]}, {"calculate": "indexof(['BYN','LGB','RF','AB','KNN','SL','J48','BG','SVM','NB'], datum.axis)", "as": "i"}, {"calculate": "(datum.value-0.3)/0.7*sin(datum.i*PI/5)", "as": "px"}, {"calculate": "(datum.value-0.3)/0.7*cos(datum.i*PI/5)", "as": "py"}], "mark": {"type": "line", "interpolate": "linear-closed", "strokeWidth": 3, "fillOpacity": 0.25}, "encoding": {"x": {"field": "px", "type": "quantitative", "scale": {"domain": [-1.2712, 1.2712], "nice": false, "zero": false}, "axis": null}, "y": {"field": "py", "type": "quantitative", "scale": {"domain": [-1.2288, 1.2288], "nice": false, "zero": false}, "axis": null}, "order": {"field": "i", "type": "quantitative"}, "stroke": {"field": "model", "type": "nominal", "scale": {"domain": ["PCM","UCM","PC based BN","GC based BN","PLV based BN"], "range": ["#ff0000","#0000ff","#008000","#ffebcd","#00bfbf"]}, "legend": {"title": null, "orient": "none", "legendX": 331, "legendY": 1301, "direction": "horizontal", "columns": 5}}, "fill": {"field": "model", "type": "nominal", "scale": {"domain": ["PCM","UCM","PC based BN","GC based BN","PLV based BN"], "range": ["#ff0000","#0000ff","#008000","#ffebcd","#00bfbf"]}, "legend": {"title": null, "orient": "none", "legendX": 331, "legendY": 1301, "direction": "horizontal", "columns": 5}}}},
{"data": {"name": "axes"}, "transform": [{"calculate": "1.16*sin(datum.i*PI/5)", "as": "lx"}, {"calculate": "1.16*cos(datum.i*PI/5)", "as": "ly"}], "mark": {"type": "text", "fontSize": 17, "align": "center", "baseline": "middle", "color": "black"}, "encoding": {"x": {"field": "lx", "type": "quantitative", "scale": {"domain": [-1.2712, 1.2712], "nice": false, "zero": false}, "axis": null}, "y": {"field": "ly", "type": "quantitative", "scale": {"domain": [-1.2288, 1.2288], "nice": false, "zero": false}, "axis": null}, "text": {"field": "axis", "type": "nominal"}}}
]},
{"title": "Precision", "width": 300, "height": 290, "layer": [
{"data": {"name": "levels"}, "transform": [{"filter": "datum.level < 1"}, {"calculate": "(datum.level-0.3)/0.7", "as": "rr"}, {"calculate": "0", "as": "cx"}], "mark": {"type": "point", "shape": "circle", "filled": false, "stroke": "#d0d0d0", "strokeWidth": 1, "opacity": 1}, "encoding": {"x": {"field": "cx", "type": "quantitative", "scale": {"domain": [-1.2712, 1.2712], "nice": false, "zero": false}, "axis": null}, "y": {"field": "cx", "type": "quantitative", "scale": {"domain": [-1.2288, 1.2288], "nice": false, "zero": false}, "axis": null}, "size": {"field": "rr", "type": "quantitative", "scale": {"type": "pow", "exponent": 2, "domain": [0, 1], "range": [0, 43744]}, "legend": null}}},
{"data": {"name": "axes"}, "transform": [{"calculate": "sin(datum.i*PI/5)", "as": "fx"}, {"calculate": "cos(datum.i*PI/5)", "as": "fy"}, {"calculate": "0", "as": "cx"}], "mark": {"type": "rule", "stroke": "#d0d0d0", "strokeWidth": 1}, "encoding": {"x": {"field": "cx", "type": "quantitative", "scale": {"domain": [-1.2712, 1.2712], "nice": false, "zero": false}, "axis": null}, "y": {"field": "cx", "type": "quantitative", "scale": {"domain": [-1.2288, 1.2288], "nice": false, "zero": false}, "axis": null}, "x2": {"field": "fx"}, "y2": {"field": "fy"}}},
{"data": {"name": "axes"}, "transform": [{"calculate": "sin(datum.i*PI/5)", "as": "fx"}, {"calculate": "cos(datum.i*PI/5)", "as": "fy"}], "mark": {"type": "line", "interpolate": "linear-closed", "stroke": "#2b2b2b", "strokeWidth": 1}, "encoding": {"x": {"field": "fx", "type": "quantitative", "scale": {"domain": [-1.2712, 1.2712], "nice": false, "zero": false}, "axis": null}, "y": {"field": "fy", "type": "quantitative", "scale": {"domain": [-1.2288, 1.2288], "nice": false, "zero": false}, "axis": null}, "order": {"field": "i", "type": "quantitative"}}},
{"data": {"name": "levels"}, "transform": [{"calculate": "(datum.level-0.3)/0.7*sin(-PI/8)", "as": "tx"}, {"calculate": "(datum.level-0.3)/0.7*cos(PI/8)", "as": "ty"}], "mark": {"type": "text", "align": "left", "fontSize": 16, "color": "#262626", "dx": 5, "dy": -4}, "encoding": {"x": {"field": "tx", "type": "quantitative", "scale": {"domain": [-1.2712, 1.2712], "nice": false, "zero": false}, "axis": null}, "y": {"field": "ty", "type": "quantitative", "scale": {"domain": [-1.2288, 1.2288], "nice": false, "zero": false}, "axis": null}, "text": {"field": "label", "type": "nominal"}}},
{"data": {"name": "scores"}, "transform": [{"filter": "datum.band === 'Beta' && datum.metric === 'Precision'"}, {"fold": ["BYN","LGB","RF","AB","KNN","SL","J48","BG","SVM","NB"], "as": ["axis", "value"]}, {"calculate": "indexof(['BYN','LGB','RF','AB','KNN','SL','J48','BG','SVM','NB'], datum.axis)", "as": "i"}, {"calculate": "(datum.value-0.3)/0.7*sin(datum.i*PI/5)", "as": "px"}, {"calculate": "(datum.value-0.3)/0.7*cos(datum.i*PI/5)", "as": "py"}], "mark": {"type": "line", "interpolate": "linear-closed", "strokeWidth": 3, "fillOpacity": 0.25}, "encoding": {"x": {"field": "px", "type": "quantitative", "scale": {"domain": [-1.2712, 1.2712], "nice": false, "zero": false}, "axis": null}, "y": {"field": "py", "type": "quantitative", "scale": {"domain": [-1.2288, 1.2288], "nice": false, "zero": false}, "axis": null}, "order": {"field": "i", "type": "quantitative"}, "stroke": {"field": "model", "type": "nominal", "scale": {"domain": ["PCM","UCM","PC based BN","GC based BN","PLV based BN"], "range": ["#ff0000","#0000ff","#008000","#ffebcd","#00bfbf"]}, "legend": {"title": null, "orient": "none", "legendX": 331, "legendY": 1301, "direction": "horizontal", "columns": 5}}, "fill": {"field": "model", "type": "nominal", "scale": {"domain": ["PCM","UCM","PC based BN","GC based BN","PLV based BN"], "range": ["#ff0000","#0000ff","#008000","#ffebcd","#00bfbf"]}, "legend": {"title": null, "orient": "none", "legendX": 331, "legendY": 1301, "direction": "horizontal", "columns": 5}}}},
{"data": {"name": "axes"}, "transform": [{"calculate": "1.16*sin(datum.i*PI/5)", "as": "lx"}, {"calculate": "1.16*cos(datum.i*PI/5)", "as": "ly"}], "mark": {"type": "text", "fontSize": 17, "align": "center", "baseline": "middle", "color": "black"}, "encoding": {"x": {"field": "lx", "type": "quantitative", "scale": {"domain": [-1.2712, 1.2712], "nice": false, "zero": false}, "axis": null}, "y": {"field": "ly", "type": "quantitative", "scale": {"domain": [-1.2288, 1.2288], "nice": false, "zero": false}, "axis": null}, "text": {"field": "axis", "type": "nominal"}}}
]},
{"title": "Recall", "width": 300, "height": 290, "layer": [
{"data": {"name": "levels"}, "transform": [{"filter": "datum.level < 1"}, {"calculate": "(datum.level-0.3)/0.7", "as": "rr"}, {"calculate": "0", "as": "cx"}], "mark": {"type": "point", "shape": "circle", "filled": false, "stroke": "#d0d0d0", "strokeWidth": 1, "opacity": 1}, "encoding": {"x": {"field": "cx", "type": "quantitative", "scale": {"domain": [-1.2712, 1.2712], "nice": false, "zero": false}, "axis": null}, "y": {"field": "cx", "type": "quantitative", "scale": {"domain": [-1.2288, 1.2288], "nice": false, "zero": false}, "axis": null}, "size": {"field": "rr", "type": "quantitative", "scale": {"type": "pow", "exponent": 2, "domain": [0, 1], "range": [0, 43744]}, "legend": null}}},
{"data": {"name": "axes"}, "transform": [{"calculate": "sin(datum.i*PI/5)", "as": "fx"}, {"calculate": "cos(datum.i*PI/5)", "as": "fy"}, {"calculate": "0", "as": "cx"}], "mark": {"type": "rule", "stroke": "#d0d0d0", "strokeWidth": 1}, "encoding": {"x": {"field": "cx", "type": "quantitative", "scale": {"domain": [-1.2712, 1.2712], "nice": false, "zero": false}, "axis": null}, "y": {"field": "cx", "type": "quantitative", "scale": {"domain": [-1.2288, 1.2288], "nice": false, "zero": false}, "axis": null}, "x2": {"field": "fx"}, "y2": {"field": "fy"}}},
{"data": {"name": "axes"}, "transform": [{"calculate": "sin(datum.i*PI/5)", "as": "fx"}, {"calculate": "cos(datum.i*PI/5)", "as": "fy"}], "mark": {"type": "line", "interpolate": "linear-closed", "stroke": "#2b2b2b", "strokeWidth": 1}, "encoding": {"x": {"field": "fx", "type": "quantitative", "scale": {"domain": [-1.2712, 1.2712], "nice": false, "zero": false}, "axis": null}, "y": {"field": "fy", "type": "quantitative", "scale": {"domain": [-1.2288, 1.2288], "nice": false, "zero": false}, "axis": null}, "order": {"field": "i", "type": "quantitative"}}},
{"data": {"name": "levels"}, "transform": [{"calculate": "(datum.level-0.3)/0.7*sin(-PI/8)", "as": "tx"}, {"calculate": "(datum.level-0.3)/0.7*cos(PI/8)", "as": "ty"}], "mark": {"type": "text", "align": "left", "fontSize": 16, "color": "#262626", "dx": 5, "dy": -4}, "encoding": {"x": {"field": "tx", "type": "quantitative", "scale": {"domain": [-1.2712, 1.2712], "nice": false, "zero": false}, "axis": null}, "y": {"field": "ty", "type": "quantitative", "scale": {"domain": [-1.2288, 1.2288], "nice": false, "zero": false}, "axis": null}, "text": {"field": "label", "type": "nominal"}}},
{"data": {"name": "scores"}, "transform": [{"filter": "datum.band === 'Beta' && datum.metric === 'Recall'"}, {"fold": ["BYN","LGB","RF","AB","KNN","SL","J48","BG","SVM","NB"], "as": ["axis", "value"]}, {"calculate": "indexof(['BYN','LGB','RF','AB','KNN','SL','J48','BG','SVM','NB'], datum.axis)", "as": "i"}, {"calculate": "(datum.value-0.3)/0.7*sin(datum.i*PI/5)", "as": "px"}, {"calculate": "(datum.value-0.3)/0.7*cos(datum.i*PI/5)", "as": "py"}], "mark": {"type": "line", "interpolate": "linear-closed", "strokeWidth": 3, "fillOpacity": 0.25}, "encoding": {"x": {"field": "px", "type": "quantitative", "scale": {"domain": [-1.2712, 1.2712], "nice": false, "zero": false}, "axis": null}, "y": {"field": "py", "type": "quantitative", "scale": {"domain": [-1.2288, 1.2288], "nice": false, "zero": false}, "axis": null}, "order": {"field": "i", "type": "quantitative"}, "stroke": {"field": "model", "type": "nominal", "scale": {"domain": ["PCM","UCM","PC based BN","GC based BN","PLV based BN"], "range": ["#ff0000","#0000ff","#008000","#ffebcd","#00bfbf"]}, "legend": {"title": null, "orient": "none", "legendX": 331, "legendY": 1301, "direction": "horizontal", "columns": 5}}, "fill": {"field": "model", "type": "nominal", "scale": {"domain": ["PCM","UCM","PC based BN","GC based BN","PLV based BN"], "range": ["#ff0000","#0000ff","#008000","#ffebcd","#00bfbf"]}, "legend": {"title": null, "orient": "none", "legendX": 331, "legendY": 1301, "direction": "horizontal", "columns": 5}}}},
{"data": {"name": "axes"}, "transform": [{"calculate": "1.16*sin(datum.i*PI/5)", "as": "lx"}, {"calculate": "1.16*cos(datum.i*PI/5)", "as": "ly"}], "mark": {"type": "text", "fontSize": 17, "align": "center", "baseline": "middle", "color": "black"}, "encoding": {"x": {"field": "lx", "type": "quantitative", "scale": {"domain": [-1.2712, 1.2712], "nice": false, "zero": false}, "axis": null}, "y": {"field": "ly", "type": "quantitative", "scale": {"domain": [-1.2288, 1.2288], "nice": false, "zero": false}, "axis": null}, "text": {"field": "axis", "type": "nominal"}}}
]},
{"title": "AUC", "width": 300, "height": 290, "layer": [
{"data": {"name": "levels"}, "transform": [{"filter": "datum.level < 1"}, {"calculate": "(datum.level-0.3)/0.7", "as": "rr"}, {"calculate": "0", "as": "cx"}], "mark": {"type": "point", "shape": "circle", "filled": false, "stroke": "#d0d0d0", "strokeWidth": 1, "opacity": 1}, "encoding": {"x": {"field": "cx", "type": "quantitative", "scale": {"domain": [-1.2712, 1.2712], "nice": false, "zero": false}, "axis": null}, "y": {"field": "cx", "type": "quantitative", "scale": {"domain": [-1.2288, 1.2288], "nice": false, "zero": false}, "axis": null}, "size": {"field": "rr", "type": "quantitative", "scale": {"type": "pow", "exponent": 2, "domain": [0, 1], "range": [0, 43744]}, "legend": null}}},
{"data": {"name": "axes"}, "transform": [{"calculate": "sin(datum.i*PI/5)", "as": "fx"}, {"calculate": "cos(datum.i*PI/5)", "as": "fy"}, {"calculate": "0", "as": "cx"}], "mark": {"type": "rule", "stroke": "#d0d0d0", "strokeWidth": 1}, "encoding": {"x": {"field": "cx", "type": "quantitative", "scale": {"domain": [-1.2712, 1.2712], "nice": false, "zero": false}, "axis": null}, "y": {"field": "cx", "type": "quantitative", "scale": {"domain": [-1.2288, 1.2288], "nice": false, "zero": false}, "axis": null}, "x2": {"field": "fx"}, "y2": {"field": "fy"}}},
{"data": {"name": "axes"}, "transform": [{"calculate": "sin(datum.i*PI/5)", "as": "fx"}, {"calculate": "cos(datum.i*PI/5)", "as": "fy"}], "mark": {"type": "line", "interpolate": "linear-closed", "stroke": "#2b2b2b", "strokeWidth": 1}, "encoding": {"x": {"field": "fx", "type": "quantitative", "scale": {"domain": [-1.2712, 1.2712], "nice": false, "zero": false}, "axis": null}, "y": {"field": "fy", "type": "quantitative", "scale": {"domain": [-1.2288, 1.2288], "nice": false, "zero": false}, "axis": null}, "order": {"field": "i", "type": "quantitative"}}},
{"data": {"name": "levels"}, "transform": [{"calculate": "(datum.level-0.3)/0.7*sin(-PI/8)", "as": "tx"}, {"calculate": "(datum.level-0.3)/0.7*cos(PI/8)", "as": "ty"}], "mark": {"type": "text", "align": "left", "fontSize": 16, "color": "#262626", "dx": 5, "dy": -4}, "encoding": {"x": {"field": "tx", "type": "quantitative", "scale": {"domain": [-1.2712, 1.2712], "nice": false, "zero": false}, "axis": null}, "y": {"field": "ty", "type": "quantitative", "scale": {"domain": [-1.2288, 1.2288], "nice": false, "zero": false}, "axis": null}, "text": {"field": "label", "type": "nominal"}}},
{"data": {"name": "scores"}, "transform": [{"filter": "datum.band === 'Beta' && datum.metric === 'AUC'"}, {"fold": ["BYN","LGB","RF","AB","KNN","SL","J48","BG","SVM","NB"], "as": ["axis", "value"]}, {"calculate": "indexof(['BYN','LGB','RF','AB','KNN','SL','J48','BG','SVM','NB'], datum.axis)", "as": "i"}, {"calculate": "(datum.value-0.3)/0.7*sin(datum.i*PI/5)", "as": "px"}, {"calculate": "(datum.value-0.3)/0.7*cos(datum.i*PI/5)", "as": "py"}], "mark": {"type": "line", "interpolate": "linear-closed", "strokeWidth": 3, "fillOpacity": 0.25}, "encoding": {"x": {"field": "px", "type": "quantitative", "scale": {"domain": [-1.2712, 1.2712], "nice": false, "zero": false}, "axis": null}, "y": {"field": "py", "type": "quantitative", "scale": {"domain": [-1.2288, 1.2288], "nice": false, "zero": false}, "axis": null}, "order": {"field": "i", "type": "quantitative"}, "stroke": {"field": "model", "type": "nominal", "scale": {"domain": ["PCM","UCM","PC based BN","GC based BN","PLV based BN"], "range": ["#ff0000","#0000ff","#008000","#ffebcd","#00bfbf"]}, "legend": {"title": null, "orient": "none", "legendX": 331, "legendY": 1301, "direction": "horizontal", "columns": 5}}, "fill": {"field": "model", "type": "nominal", "scale": {"domain": ["PCM","UCM","PC based BN","GC based BN","PLV based BN"], "range": ["#ff0000","#0000ff","#008000","#ffebcd","#00bfbf"]}, "legend": {"title": null, "orient": "none", "legendX": 331, "legendY": 1301, "direction": "horizontal", "columns": 5}}}},
{"data": {"name": "axes"}, "transform": [{"calculate": "1.16*sin(datum.i*PI/5)", "as": "lx"}, {"calculate": "1.16*cos(datum.i*PI/5)", "as": "ly"}], "mark": {"type": "text", "fontSize": 17, "align": "center", "baseline": "middle", "color": "black"}, "encoding": {"x": {"field": "lx", "type": "quantitative", "scale": {"domain": [-1.2712, 1.2712], "nice": false, "zero": false}, "axis": null}, "y": {"field": "ly", "type": "quantitative", "scale": {"domain": [-1.2288, 1.2288], "nice": false, "zero": false}, "axis": null}, "text": {"field": "axis", "type": "nominal"}}}
]}
]}
]
}
